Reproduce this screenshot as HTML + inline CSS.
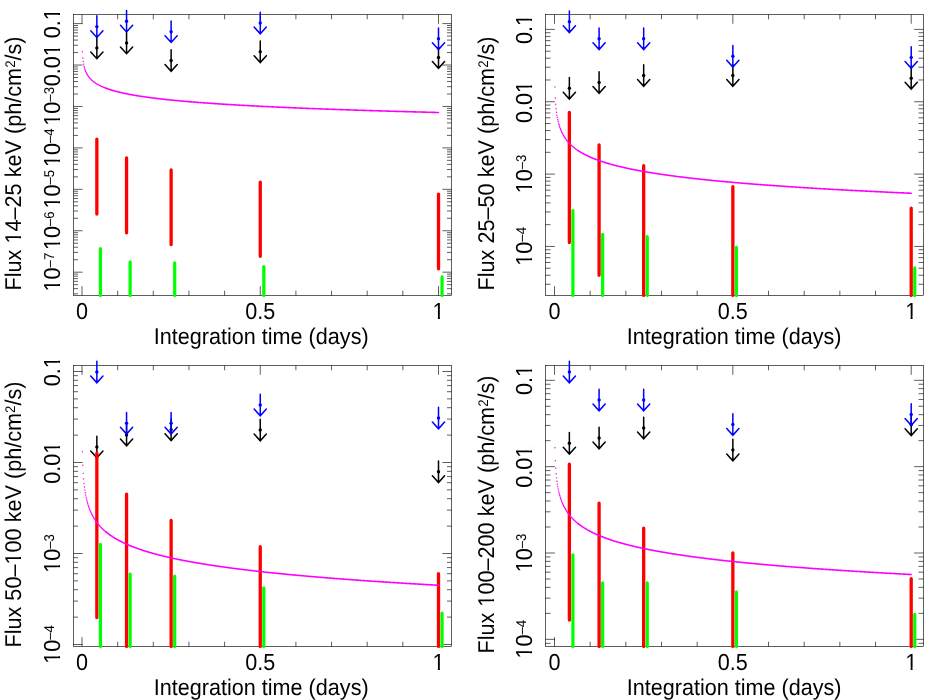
<!DOCTYPE html>
<html><head><meta charset="utf-8"><title>plot</title>
<style>html,body{margin:0;padding:0;background:#fff}svg{display:block}text{font-family:"Liberation Sans",sans-serif;fill:#000;text-rendering:geometricPrecision}</style></head>
<body>
<svg width="932" height="700" viewBox="0 0 932 700">
<rect width="932" height="700" fill="#fff"/>
<g id="p1">
<path d="M82,295.5v-9.3M82,14.5v9.3M117.65,295.5v-4.8M117.65,14.5v4.8M153.3,295.5v-4.8M153.3,14.5v4.8M188.95,295.5v-4.8M188.95,14.5v4.8M224.6,295.5v-4.8M224.6,14.5v4.8M260.25,295.5v-9.3M260.25,14.5v9.3M295.9,295.5v-4.8M295.9,14.5v4.8M331.55,295.5v-4.8M331.55,14.5v4.8M367.2,295.5v-4.8M367.2,14.5v4.8M402.85,295.5v-4.8M402.85,14.5v4.8M438.5,295.5v-9.3M438.5,14.5v9.3M73.5,23.6h9.1M451.5,23.6h-9.1M73.5,65.03h9.1M451.5,65.03h-9.1M73.5,52.56h4.5M451.5,52.56h-4.5M73.5,45.26h4.5M451.5,45.26h-4.5M73.5,40.09h4.5M451.5,40.09h-4.5M73.5,36.07h4.5M451.5,36.07h-4.5M73.5,32.79h4.5M451.5,32.79h-4.5M73.5,30.02h4.5M451.5,30.02h-4.5M73.5,27.61h4.5M451.5,27.61h-4.5M73.5,25.5h4.5M451.5,25.5h-4.5M73.5,106.46h9.1M451.5,106.46h-9.1M73.5,93.99h4.5M451.5,93.99h-4.5M73.5,86.69h4.5M451.5,86.69h-4.5M73.5,81.52h4.5M451.5,81.52h-4.5M73.5,77.5h4.5M451.5,77.5h-4.5M73.5,74.22h4.5M451.5,74.22h-4.5M73.5,71.45h4.5M451.5,71.45h-4.5M73.5,69.04h4.5M451.5,69.04h-4.5M73.5,66.93h4.5M451.5,66.93h-4.5M73.5,147.89h9.1M451.5,147.89h-9.1M73.5,135.42h4.5M451.5,135.42h-4.5M73.5,128.12h4.5M451.5,128.12h-4.5M73.5,122.95h4.5M451.5,122.95h-4.5M73.5,118.93h4.5M451.5,118.93h-4.5M73.5,115.65h4.5M451.5,115.65h-4.5M73.5,112.88h4.5M451.5,112.88h-4.5M73.5,110.47h4.5M451.5,110.47h-4.5M73.5,108.36h4.5M451.5,108.36h-4.5M73.5,189.32h9.1M451.5,189.32h-9.1M73.5,176.85h4.5M451.5,176.85h-4.5M73.5,169.55h4.5M451.5,169.55h-4.5M73.5,164.38h4.5M451.5,164.38h-4.5M73.5,160.36h4.5M451.5,160.36h-4.5M73.5,157.08h4.5M451.5,157.08h-4.5M73.5,154.31h4.5M451.5,154.31h-4.5M73.5,151.9h4.5M451.5,151.9h-4.5M73.5,149.79h4.5M451.5,149.79h-4.5M73.5,230.75h9.1M451.5,230.75h-9.1M73.5,218.28h4.5M451.5,218.28h-4.5M73.5,210.98h4.5M451.5,210.98h-4.5M73.5,205.81h4.5M451.5,205.81h-4.5M73.5,201.79h4.5M451.5,201.79h-4.5M73.5,198.51h4.5M451.5,198.51h-4.5M73.5,195.74h4.5M451.5,195.74h-4.5M73.5,193.33h4.5M451.5,193.33h-4.5M73.5,191.22h4.5M451.5,191.22h-4.5M73.5,272.18h9.1M451.5,272.18h-9.1M73.5,259.71h4.5M451.5,259.71h-4.5M73.5,252.41h4.5M451.5,252.41h-4.5M73.5,247.24h4.5M451.5,247.24h-4.5M73.5,243.22h4.5M451.5,243.22h-4.5M73.5,239.94h4.5M451.5,239.94h-4.5M73.5,237.17h4.5M451.5,237.17h-4.5M73.5,234.76h4.5M451.5,234.76h-4.5M73.5,232.65h4.5M451.5,232.65h-4.5M73.5,293.84h4.5M451.5,293.84h-4.5M73.5,288.67h4.5M451.5,288.67h-4.5M73.5,284.65h4.5M451.5,284.65h-4.5M73.5,281.37h4.5M451.5,281.37h-4.5M73.5,278.6h4.5M451.5,278.6h-4.5M73.5,276.19h4.5M451.5,276.19h-4.5M73.5,274.08h4.5M451.5,274.08h-4.5" fill="none" stroke="#000" stroke-width="0.63"/>
<rect x="73.5" y="14.5" width="378" height="281" fill="none" stroke="#000" stroke-width="0.63"/>
<g fill="#000000" stroke="none"><path d="M96.85,37.1V58.7M90.75,52L96.85,58.7L102.95,52M126.56,32.1V53.7M120.46,47L126.56,53.7L132.66,47M171.12,49.7V71.3M165.03,64.6L171.12,71.3L177.22,64.6M260.25,40.95V62.55M254.15,55.85L260.25,62.55L266.35,55.85M438.5,46.7V68.3M432.4,61.6L438.5,68.3L444.6,61.6" fill="none" stroke="#000000" stroke-width="1.5" stroke-linecap="round" stroke-linejoin="miter" stroke-miterlimit="10"/><circle cx="96.85" cy="47.9" r="1.7"/><circle cx="126.56" cy="42.9" r="1.7"/><circle cx="171.12" cy="60.5" r="1.7"/><circle cx="260.25" cy="51.75" r="1.7"/><circle cx="438.5" cy="57.5" r="1.7"/></g>
<path d="M96.85,139.2V214M126.56,157.95V232.75M171.12,169.95V244.5M260.25,182.2V256.25M438.5,194.2V268.75" fill="none" stroke="#ff0000" stroke-width="3.3" stroke-linecap="round"/>
<path d="M100.42,248.7V295.4M130.13,261.95V295.4M174.69,262.95V295.4M263.81,266.7V295.4M442.06,276.95V295.4" fill="none" stroke="#00ff00" stroke-width="3.2" stroke-linecap="round"/>
<g fill="#0000ff" stroke="none"><path d="M96.85,15.85V37.45M90.75,30.75L96.85,37.45L102.95,30.75M126.56,10.4V32M120.46,25.3L126.56,32L132.66,25.3M171.12,20.9V42.5M165.03,35.8L171.12,42.5L177.22,35.8M260.25,12.2V33.8M254.15,27.1L260.25,33.8L266.35,27.1M438.5,27.95V49.55M432.4,42.85L438.5,49.55L444.6,42.85" fill="none" stroke="#0000ff" stroke-width="1.5" stroke-linecap="round" stroke-linejoin="miter" stroke-miterlimit="10"/><circle cx="96.85" cy="26.65" r="1.7"/><circle cx="126.56" cy="21.2" r="1.7"/><circle cx="171.12" cy="31.7" r="1.7"/><circle cx="260.25" cy="23" r="1.7"/><circle cx="438.5" cy="38.75" r="1.7"/></g>
<path fill="none" stroke="#ff00ff" stroke-width="1.45" stroke-linecap="round" d="M82.41,51.67h0M82.83,57.91h0M83.24,61.55h0M83.65,64.14h0M84.06,66.15h0M84.48,67.79h0M84.89,69.18h0M85.3,70.38h0M85.71,71.44h0M86.13,72.39h0M86.54,73.24h0M86.95,74.03h0M87.36,74.75h0M87.78,75.41h0M88.19,76.03h0M88.6,76.61h0M89.01,77.16h0M89.43,77.67h0M89.84,78.16h0M90.25,78.62h0M90.66,79.06h0M91.08,79.48h0M91.49,79.88h0M91.9,80.26h0M92.32,80.63h0M92.73,80.98h0M93.14,81.32h0M93.55,81.65h0M93.97,81.96h0M94.38,82.27h0M94.79,82.56h0M95.2,82.85h0M95.62,83.13h0M96.03,83.39h0M96.44,83.66h0M96.85,83.91h0M97.27,84.16h0M97.68,84.4h0M98.09,84.63h0M98.5,84.86h0M98.92,85.08h0M99.33,85.3h0M99.74,85.51h0M100.16,85.71h0M100.57,85.92h0M100.98,86.11h0M101.39,86.31h0M101.81,86.5h0M102.22,86.68h0M102.63,86.86h0M103.04,87.04h0M103.46,87.22h0M103.87,87.39h0M104.28,87.56h0M104.69,87.72h0M105.11,87.88h0M105.52,88.04h0M105.93,88.2h0M106.34,88.35h0M106.76,88.5h0"/>
<polyline fill="none" stroke="#ff00ff" stroke-width="1.6" stroke-linecap="round" stroke-linejoin="round" points="105.93,88.2 106.34,88.35 106.76,88.5 107.17,88.65 107.58,88.8 107.99,88.94 108.41,89.09 108.82,89.22 109.23,89.36 109.65,89.5 110.06,89.63 110.47,89.76 110.88,89.89 111.3,90.02 111.71,90.14 112.12,90.27 112.53,90.39 112.95,90.51 113.36,90.63 113.77,90.75 114.18,90.86 114.6,90.98 115.01,91.09 115.42,91.2 115.83,91.31 116.25,91.42 116.66,91.53 117.07,91.64 117.48,91.74 117.9,91.85 118.31,91.95 118.72,92.05 119.14,92.15 119.55,92.25 119.96,92.35 120.37,92.45 120.79,92.54 121.2,92.64 121.61,92.73 122.02,92.83 122.44,92.92 122.85,93.01 123.26,93.1 123.67,93.19 124.09,93.28 124.5,93.37 124.91,93.45 125.32,93.54 125.74,93.62 126.15,93.71 126.56,93.79 126.98,93.88 127.39,93.96 127.8,94.04 128.21,94.12 128.63,94.2 129.04,94.28 129.45,94.36 129.86,94.44 130.28,94.51 130.69,94.59 131.1,94.67 131.51,94.74 131.93,94.82 132.34,94.89 132.75,94.96 133.16,95.04 133.58,95.11 133.99,95.18 134.4,95.25 134.81,95.32 135.23,95.39 135.64,95.46 136.05,95.53 136.47,95.6 136.88,95.67 137.29,95.73 137.7,95.8 138.12,95.87 138.53,95.93 138.94,96 139.35,96.06 139.77,96.13 140.18,96.19 140.59,96.25 141,96.32 141.42,96.38 141.83,96.44 142.24,96.5 142.65,96.57 143.07,96.63 143.48,96.69 143.89,96.75 144.3,96.81 144.72,96.87 145.13,96.93 145.54,96.98 145.96,97.04 146.37,97.1 146.78,97.16 147.19,97.22 147.61,97.27 148.02,97.33 148.43,97.38 148.84,97.44 149.26,97.5 149.67,97.55 150.08,97.61 150.49,97.66 150.91,97.71 151.32,97.77 151.73,97.82 152.14,97.87 152.56,97.93 152.97,97.98 153.38,98.03 153.8,98.08 154.21,98.13 154.62,98.19 155.03,98.24 155.45,98.29 155.86,98.34 156.27,98.39 156.68,98.44 157.1,98.49 157.51,98.54 157.92,98.59 158.33,98.63 158.75,98.68 159.16,98.73 159.57,98.78 159.98,98.83 160.4,98.87 160.81,98.92 161.22,98.97 161.63,99.02 162.05,99.06 162.46,99.11 162.87,99.15 163.29,99.2 163.7,99.25 164.11,99.29 164.52,99.34 164.94,99.38 165.35,99.43 165.76,99.47 166.17,99.51 166.59,99.56 167,99.6 167.41,99.65 167.82,99.69 168.24,99.73 168.65,99.77 169.06,99.82 169.47,99.86 169.89,99.9 170.3,99.94 170.71,99.99 171.12,100.03 171.54,100.07 171.95,100.11 172.36,100.15 172.78,100.19 173.19,100.23 173.6,100.27 174.01,100.32 174.43,100.36 174.84,100.4 175.25,100.44 175.66,100.48 176.08,100.51 176.49,100.55 176.9,100.59 177.31,100.63 177.73,100.67 178.14,100.71 178.55,100.75 178.96,100.79 179.38,100.82 179.79,100.86 180.2,100.9 180.62,100.94 181.03,100.98 181.44,101.01 181.85,101.05 182.27,101.09 182.68,101.12 183.09,101.16 183.5,101.2 183.92,101.23 184.33,101.27 184.74,101.31 185.15,101.34 185.57,101.38 185.98,101.42 186.39,101.45 186.8,101.49 187.22,101.52 187.63,101.56 188.04,101.59 188.45,101.63 188.87,101.66 189.28,101.7 189.69,101.73 190.11,101.77 190.52,101.8 190.93,101.83 191.34,101.87 191.76,101.9 192.17,101.94 192.58,101.97 192.99,102 193.41,102.04 193.82,102.07 194.23,102.1 194.64,102.14 195.06,102.17 195.47,102.2 195.88,102.23 196.29,102.27 196.71,102.3 197.12,102.33 197.53,102.36 197.95,102.4 198.36,102.43 198.77,102.46 199.18,102.49 199.6,102.52 200.01,102.55 200.42,102.59 200.83,102.62 201.25,102.65 201.66,102.68 202.07,102.71 202.48,102.74 202.9,102.77 203.31,102.8 203.72,102.83 204.13,102.86 204.55,102.89 204.96,102.92 205.37,102.95 205.78,102.98 206.2,103.01 206.61,103.04 207.02,103.07 207.44,103.1 207.85,103.13 208.26,103.16 208.67,103.19 209.09,103.22 209.5,103.25 209.91,103.28 210.32,103.31 210.74,103.34 211.15,103.37 211.56,103.39 211.97,103.42 212.39,103.45 212.8,103.48 213.21,103.51 213.62,103.54 214.04,103.56 214.45,103.59 214.86,103.62 215.27,103.65 215.69,103.68 216.1,103.7 216.51,103.73 216.93,103.76 217.34,103.79 217.75,103.81 218.16,103.84 218.58,103.87 218.99,103.9 219.4,103.92 219.81,103.95 220.23,103.98 220.64,104 221.05,104.03 221.46,104.06 221.88,104.08 222.29,104.11 222.7,104.14 223.11,104.16 223.53,104.19 223.94,104.21 224.35,104.24 224.77,104.27 225.18,104.29 225.59,104.32 226,104.34 226.42,104.37 226.83,104.4 227.24,104.42 227.65,104.45 228.07,104.47 228.48,104.5 228.89,104.52 229.3,104.55 229.72,104.57 230.13,104.6 230.54,104.62 230.95,104.65 231.37,104.67 231.78,104.7 232.19,104.72 232.6,104.75 233.02,104.77 233.43,104.8 233.84,104.82 234.26,104.85 234.67,104.87 235.08,104.89 235.49,104.92 235.91,104.94 236.32,104.97 236.73,104.99 237.14,105.02 237.56,105.04 237.97,105.06 238.38,105.09 238.79,105.11 239.21,105.13 239.62,105.16 240.03,105.18 240.44,105.2 240.86,105.23 241.27,105.25 241.68,105.27 242.09,105.3 242.51,105.32 242.92,105.34 243.33,105.37 243.75,105.39 244.16,105.41 244.57,105.44 244.98,105.46 245.4,105.48 245.81,105.5 246.22,105.53 246.63,105.55 247.05,105.57 247.46,105.59 247.87,105.62 248.28,105.64 248.7,105.66 249.11,105.68 249.52,105.71 249.93,105.73 250.35,105.75 250.76,105.77 251.17,105.79 251.59,105.82 252,105.84 252.41,105.86 252.82,105.88 253.24,105.9 253.65,105.92 254.06,105.95 254.47,105.97 254.89,105.99 255.3,106.01 255.71,106.03 256.12,106.05 256.54,106.07 256.95,106.1 257.36,106.12 257.77,106.14 258.19,106.16 258.6,106.18 259.01,106.2 259.42,106.22 259.84,106.24 260.25,106.26 260.66,106.28 261.08,106.31 261.49,106.33 261.9,106.35 262.31,106.37 262.73,106.39 263.14,106.41 263.55,106.43 263.96,106.45 264.38,106.47 264.79,106.49 265.2,106.51 265.61,106.53 266.03,106.55 266.44,106.57 266.85,106.59 267.26,106.61 267.68,106.63 268.09,106.65 268.5,106.67 268.91,106.69 269.33,106.71 269.74,106.73 270.15,106.75 270.57,106.77 270.98,106.79 271.39,106.81 271.8,106.83 272.22,106.85 272.63,106.87 273.04,106.89 273.45,106.91 273.87,106.93 274.28,106.95 274.69,106.97 275.1,106.98 275.52,107 275.93,107.02 276.34,107.04 276.75,107.06 277.17,107.08 277.58,107.1 277.99,107.12 278.41,107.14 278.82,107.16 279.23,107.17 279.64,107.19 280.06,107.21 280.47,107.23 280.88,107.25 281.29,107.27 281.71,107.29 282.12,107.31 282.53,107.32 282.94,107.34 283.36,107.36 283.77,107.38 284.18,107.4 284.59,107.42 285.01,107.43 285.42,107.45 285.83,107.47 286.24,107.49 286.66,107.51 287.07,107.53 287.48,107.54 287.9,107.56 288.31,107.58 288.72,107.6 289.13,107.62 289.55,107.63 289.96,107.65 290.37,107.67 290.78,107.69 291.2,107.7 291.61,107.72 292.02,107.74 292.43,107.76 292.85,107.78 293.26,107.79 293.67,107.81 294.08,107.83 294.5,107.85 294.91,107.86 295.32,107.88 295.73,107.9 296.15,107.91 296.56,107.93 296.97,107.95 297.39,107.97 297.8,107.98 298.21,108 298.62,108.02 299.04,108.04 299.45,108.05 299.86,108.07 300.27,108.09 300.69,108.1 301.1,108.12 301.51,108.14 301.92,108.15 302.34,108.17 302.75,108.19 303.16,108.2 303.57,108.22 303.99,108.24 304.4,108.25 304.81,108.27 305.23,108.29 305.64,108.3 306.05,108.32 306.46,108.34 306.88,108.35 307.29,108.37 307.7,108.39 308.11,108.4 308.53,108.42 308.94,108.44 309.35,108.45 309.76,108.47 310.18,108.49 310.59,108.5 311,108.52 311.41,108.53 311.83,108.55 312.24,108.57 312.65,108.58 313.06,108.6 313.48,108.61 313.89,108.63 314.3,108.65 314.72,108.66 315.13,108.68 315.54,108.69 315.95,108.71 316.37,108.73 316.78,108.74 317.19,108.76 317.6,108.77 318.02,108.79 318.43,108.81 318.84,108.82 319.25,108.84 319.67,108.85 320.08,108.87 320.49,108.88 320.9,108.9 321.32,108.91 321.73,108.93 322.14,108.95 322.55,108.96 322.97,108.98 323.38,108.99 323.79,109.01 324.21,109.02 324.62,109.04 325.03,109.05 325.44,109.07 325.86,109.08 326.27,109.1 326.68,109.11 327.09,109.13 327.51,109.14 327.92,109.16 328.33,109.17 328.74,109.19 329.16,109.2 329.57,109.22 329.98,109.23 330.39,109.25 330.81,109.26 331.22,109.28 331.63,109.29 332.05,109.31 332.46,109.32 332.87,109.34 333.28,109.35 333.7,109.37 334.11,109.38 334.52,109.4 334.93,109.41 335.35,109.43 335.76,109.44 336.17,109.46 336.58,109.47 337,109.49 337.41,109.5 337.82,109.51 338.23,109.53 338.65,109.54 339.06,109.56 339.47,109.57 339.88,109.59 340.3,109.6 340.71,109.62 341.12,109.63 341.54,109.64 341.95,109.66 342.36,109.67 342.77,109.69 343.19,109.7 343.6,109.72 344.01,109.73 344.42,109.74 344.84,109.76 345.25,109.77 345.66,109.79 346.07,109.8 346.49,109.81 346.9,109.83 347.31,109.84 347.72,109.86 348.14,109.87 348.55,109.88 348.96,109.9 349.38,109.91 349.79,109.93 350.2,109.94 350.61,109.95 351.03,109.97 351.44,109.98 351.85,109.99 352.26,110.01 352.68,110.02 353.09,110.04 353.5,110.05 353.91,110.06 354.33,110.08 354.74,110.09 355.15,110.1 355.56,110.12 355.98,110.13 356.39,110.14 356.8,110.16 357.21,110.17 357.63,110.19 358.04,110.2 358.45,110.21 358.87,110.23 359.28,110.24 359.69,110.25 360.1,110.27 360.52,110.28 360.93,110.29 361.34,110.31 361.75,110.32 362.17,110.33 362.58,110.35 362.99,110.36 363.4,110.37 363.82,110.39 364.23,110.4 364.64,110.41 365.05,110.42 365.47,110.44 365.88,110.45 366.29,110.46 366.7,110.48 367.12,110.49 367.53,110.5 367.94,110.52 368.36,110.53 368.77,110.54 369.18,110.55 369.59,110.57 370.01,110.58 370.42,110.59 370.83,110.61 371.24,110.62 371.66,110.63 372.07,110.64 372.48,110.66 372.89,110.67 373.31,110.68 373.72,110.7 374.13,110.71 374.54,110.72 374.96,110.73 375.37,110.75 375.78,110.76 376.2,110.77 376.61,110.78 377.02,110.8 377.43,110.81 377.85,110.82 378.26,110.83 378.67,110.85 379.08,110.86 379.5,110.87 379.91,110.88 380.32,110.9 380.73,110.91 381.15,110.92 381.56,110.93 381.97,110.95 382.38,110.96 382.8,110.97 383.21,110.98 383.62,111 384.03,111.01 384.45,111.02 384.86,111.03 385.27,111.05 385.69,111.06 386.1,111.07 386.51,111.08 386.92,111.09 387.34,111.11 387.75,111.12 388.16,111.13 388.57,111.14 388.99,111.15 389.4,111.17 389.81,111.18 390.22,111.19 390.64,111.2 391.05,111.22 391.46,111.23 391.87,111.24 392.29,111.25 392.7,111.26 393.11,111.27 393.52,111.29 393.94,111.3 394.35,111.31 394.76,111.32 395.18,111.33 395.59,111.35 396,111.36 396.41,111.37 396.83,111.38 397.24,111.39 397.65,111.41 398.06,111.42 398.48,111.43 398.89,111.44 399.3,111.45 399.71,111.46 400.13,111.48 400.54,111.49 400.95,111.5 401.36,111.51 401.78,111.52 402.19,111.53 402.6,111.55 403.02,111.56 403.43,111.57 403.84,111.58 404.25,111.59 404.67,111.6 405.08,111.61 405.49,111.63 405.9,111.64 406.32,111.65 406.73,111.66 407.14,111.67 407.55,111.68 407.97,111.69 408.38,111.71 408.79,111.72 409.2,111.73 409.62,111.74 410.03,111.75 410.44,111.76 410.85,111.77 411.27,111.79 411.68,111.8 412.09,111.81 412.51,111.82 412.92,111.83 413.33,111.84 413.74,111.85 414.16,111.86 414.57,111.87 414.98,111.89 415.39,111.9 415.81,111.91 416.22,111.92 416.63,111.93 417.04,111.94 417.46,111.95 417.87,111.96 418.28,111.97 418.69,111.99 419.11,112 419.52,112.01 419.93,112.02 420.34,112.03 420.76,112.04 421.17,112.05 421.58,112.06 422,112.07 422.41,112.08 422.82,112.1 423.23,112.11 423.65,112.12 424.06,112.13 424.47,112.14 424.88,112.15 425.3,112.16 425.71,112.17 426.12,112.18 426.53,112.19 426.95,112.2 427.36,112.21 427.77,112.23 428.18,112.24 428.6,112.25 429.01,112.26 429.42,112.27 429.84,112.28 430.25,112.29 430.66,112.3 431.07,112.31 431.49,112.32 431.9,112.33 432.31,112.34 432.72,112.35 433.14,112.36 433.55,112.37 433.96,112.38 434.37,112.4 434.79,112.41 435.2,112.42 435.61,112.43 436.02,112.44 436.44,112.45 436.85,112.46 437.26,112.47 437.67,112.48 438.09,112.49 438.5,112.5"/>

</g>
<g id="p2">
<path d="M554.5,295.5v-9.3M554.5,14.5v9.3M590.17,295.5v-4.8M590.17,14.5v4.8M625.84,295.5v-4.8M625.84,14.5v4.8M661.51,295.5v-4.8M661.51,14.5v4.8M697.18,295.5v-4.8M697.18,14.5v4.8M732.85,295.5v-9.3M732.85,14.5v9.3M768.52,295.5v-4.8M768.52,14.5v4.8M804.19,295.5v-4.8M804.19,14.5v4.8M839.86,295.5v-4.8M839.86,14.5v4.8M875.53,295.5v-4.8M875.53,14.5v4.8M911.2,295.5v-9.3M911.2,14.5v9.3M545.5,29.4h9.4M923.5,29.4h-9.4M545.5,101.75h9.4M923.5,101.75h-9.4M545.5,79.97h5M923.5,79.97h-5M545.5,67.23h5M923.5,67.23h-5M545.5,58.19h5M923.5,58.19h-5M545.5,51.18h5M923.5,51.18h-5M545.5,45.45h5M923.5,45.45h-5M545.5,40.61h5M923.5,40.61h-5M545.5,36.41h5M923.5,36.41h-5M545.5,32.71h5M923.5,32.71h-5M545.5,174.1h9.4M923.5,174.1h-9.4M545.5,152.32h5M923.5,152.32h-5M545.5,139.58h5M923.5,139.58h-5M545.5,130.54h5M923.5,130.54h-5M545.5,123.53h5M923.5,123.53h-5M545.5,117.8h5M923.5,117.8h-5M545.5,112.96h5M923.5,112.96h-5M545.5,108.76h5M923.5,108.76h-5M545.5,105.06h5M923.5,105.06h-5M545.5,246.45h9.4M923.5,246.45h-9.4M545.5,224.67h5M923.5,224.67h-5M545.5,211.93h5M923.5,211.93h-5M545.5,202.89h5M923.5,202.89h-5M545.5,195.88h5M923.5,195.88h-5M545.5,190.15h5M923.5,190.15h-5M545.5,185.31h5M923.5,185.31h-5M545.5,181.11h5M923.5,181.11h-5M545.5,177.41h5M923.5,177.41h-5M545.5,284.28h5M923.5,284.28h-5M545.5,275.24h5M923.5,275.24h-5M545.5,268.23h5M923.5,268.23h-5M545.5,262.5h5M923.5,262.5h-5M545.5,257.66h5M923.5,257.66h-5M545.5,253.46h5M923.5,253.46h-5M545.5,249.76h5M923.5,249.76h-5" fill="none" stroke="#000" stroke-width="0.63"/>
<rect x="545.5" y="14.5" width="378" height="281" fill="none" stroke="#000" stroke-width="0.63"/>
<g fill="#000000" stroke="none"><path d="M569.36,77.45V99.05M563.26,92.35L569.36,99.05L575.46,92.35M599.09,71.7V93.3M592.99,86.6L599.09,93.3L605.19,86.6M643.67,64.7V86.3M637.57,79.6L643.67,86.3L649.77,79.6M732.85,64.7V86.3M726.75,79.6L732.85,86.3L738.95,79.6M911.2,67.45V89.05M905.1,82.35L911.2,89.05L917.3,82.35" fill="none" stroke="#000000" stroke-width="1.5" stroke-linecap="round" stroke-linejoin="miter" stroke-miterlimit="10"/><circle cx="569.36" cy="88.25" r="1.7"/><circle cx="599.09" cy="82.5" r="1.7"/><circle cx="643.67" cy="75.5" r="1.7"/><circle cx="732.85" cy="75.5" r="1.7"/><circle cx="911.2" cy="78.25" r="1.7"/></g>
<path d="M569.36,112.45V242.5M599.09,144.95V275.25M643.67,165.7V295.4M732.85,186.7V295.4M911.2,208.2V295.4" fill="none" stroke="#ff0000" stroke-width="3.3" stroke-linecap="round"/>
<path d="M572.93,210.7V295.4M602.65,234.45V295.4M647.24,236.7V295.4M736.42,247.45V295.4M914.77,267.95V295.4" fill="none" stroke="#00ff00" stroke-width="3.2" stroke-linecap="round"/>
<g fill="#0000ff" stroke="none"><path d="M569.36,10.95V32.55M563.26,25.85L569.36,32.55L575.46,25.85M599.09,27.95V49.55M592.99,42.85L599.09,49.55L605.19,42.85M643.67,27.95V49.55M637.57,42.85L643.67,49.55L649.77,42.85M732.85,45.45V67.05M726.75,60.35L732.85,67.05L738.95,60.35M911.2,46.7V68.3M905.1,61.6L911.2,68.3L917.3,61.6" fill="none" stroke="#0000ff" stroke-width="1.5" stroke-linecap="round" stroke-linejoin="miter" stroke-miterlimit="10"/><circle cx="569.36" cy="21.75" r="1.7"/><circle cx="599.09" cy="38.75" r="1.7"/><circle cx="643.67" cy="38.75" r="1.7"/><circle cx="732.85" cy="56.25" r="1.7"/><circle cx="911.2" cy="57.5" r="1.7"/></g>
<path fill="none" stroke="#ff00ff" stroke-width="1.45" stroke-linecap="round" d="M554.91,87.02h0M555.33,97.91h0M555.74,104.28h0M556.15,108.8h0M556.56,112.31h0M556.98,115.17h0M557.39,117.59h0M557.8,119.69h0M558.22,121.54h0M558.63,123.2h0M559.04,124.69h0M559.45,126.06h0M559.87,127.32h0M560.28,128.48h0M560.69,129.57h0M561.11,130.58h0M561.52,131.53h0M561.93,132.43h0M562.34,133.28h0M562.76,134.09h0M563.17,134.85h0M563.58,135.58h0M564,136.28h0M564.41,136.95h0M564.82,137.59h0M565.23,138.21h0M565.65,138.8h0M566.06,139.37h0M566.47,139.92h0M566.89,140.46h0M567.3,140.97h0M567.71,141.47h0M568.12,141.95h0M568.54,142.42h0M568.95,142.88h0M569.36,143.32h0M569.78,143.75h0M570.19,144.17h0M570.6,144.58h0M571.01,144.98h0M571.43,145.36h0M571.84,145.74h0M572.25,146.11h0M572.67,146.47h0M573.08,146.83h0M573.49,147.17h0M573.9,147.51h0M574.32,147.84h0M574.73,148.16h0M575.14,148.48h0M575.56,148.79h0M575.97,149.1h0M576.38,149.4h0M576.79,149.69h0M577.21,149.98h0M577.62,150.26h0M578.03,150.54h0M578.45,150.81h0M578.86,151.08h0M579.27,151.35h0"/>
<polyline fill="none" stroke="#ff00ff" stroke-width="1.6" stroke-linecap="round" stroke-linejoin="round" points="578.45,150.81 578.86,151.08 579.27,151.35 579.68,151.61 580.1,151.86 580.51,152.11 580.92,152.36 581.34,152.6 581.75,152.84 582.16,153.08 582.57,153.31 582.99,153.54 583.4,153.77 583.81,153.99 584.23,154.21 584.64,154.43 585.05,154.64 585.46,154.85 585.88,155.06 586.29,155.27 586.7,155.47 587.11,155.67 587.53,155.87 587.94,156.06 588.35,156.25 588.77,156.44 589.18,156.63 589.59,156.82 590,157 590.42,157.18 590.83,157.36 591.24,157.54 591.66,157.72 592.07,157.89 592.48,158.06 592.89,158.23 593.31,158.4 593.72,158.57 594.13,158.73 594.55,158.89 594.96,159.05 595.37,159.21 595.78,159.37 596.2,159.53 596.61,159.68 597.02,159.84 597.44,159.99 597.85,160.14 598.26,160.29 598.67,160.43 599.09,160.58 599.5,160.73 599.91,160.87 600.33,161.01 600.74,161.15 601.15,161.29 601.56,161.43 601.98,161.57 602.39,161.7 602.8,161.84 603.22,161.97 603.63,162.1 604.04,162.24 604.45,162.37 604.87,162.5 605.28,162.62 605.69,162.75 606.11,162.88 606.52,163 606.93,163.13 607.34,163.25 607.76,163.37 608.17,163.49 608.58,163.61 609,163.73 609.41,163.85 609.82,163.97 610.23,164.09 610.65,164.2 611.06,164.32 611.47,164.43 611.89,164.55 612.3,164.66 612.71,164.77 613.12,164.88 613.54,164.99 613.95,165.1 614.36,165.21 614.78,165.32 615.19,165.42 615.6,165.53 616.01,165.64 616.43,165.74 616.84,165.85 617.25,165.95 617.67,166.05 618.08,166.16 618.49,166.26 618.9,166.36 619.32,166.46 619.73,166.56 620.14,166.66 620.56,166.76 620.97,166.85 621.38,166.95 621.79,167.05 622.21,167.14 622.62,167.24 623.03,167.33 623.45,167.43 623.86,167.52 624.27,167.62 624.68,167.71 625.1,167.8 625.51,167.89 625.92,167.98 626.34,168.07 626.75,168.16 627.16,168.25 627.57,168.34 627.99,168.43 628.4,168.52 628.81,168.61 629.23,168.69 629.64,168.78 630.05,168.87 630.46,168.95 630.88,169.04 631.29,169.12 631.7,169.21 632.12,169.29 632.53,169.37 632.94,169.46 633.35,169.54 633.77,169.62 634.18,169.7 634.59,169.78 635.01,169.86 635.42,169.94 635.83,170.02 636.24,170.1 636.66,170.18 637.07,170.26 637.48,170.34 637.9,170.42 638.31,170.5 638.72,170.57 639.13,170.65 639.55,170.73 639.96,170.8 640.37,170.88 640.79,170.95 641.2,171.03 641.61,171.1 642.02,171.18 642.44,171.25 642.85,171.32 643.26,171.4 643.67,171.47 644.09,171.54 644.5,171.62 644.91,171.69 645.33,171.76 645.74,171.83 646.15,171.9 646.56,171.97 646.98,172.04 647.39,172.11 647.8,172.18 648.22,172.25 648.63,172.32 649.04,172.39 649.45,172.46 649.87,172.53 650.28,172.59 650.69,172.66 651.11,172.73 651.52,172.79 651.93,172.86 652.34,172.93 652.76,172.99 653.17,173.06 653.58,173.13 654,173.19 654.41,173.26 654.82,173.32 655.23,173.39 655.65,173.45 656.06,173.51 656.47,173.58 656.89,173.64 657.3,173.7 657.71,173.77 658.12,173.83 658.54,173.89 658.95,173.95 659.36,174.02 659.78,174.08 660.19,174.14 660.6,174.2 661.01,174.26 661.43,174.32 661.84,174.38 662.25,174.44 662.67,174.5 663.08,174.56 663.49,174.62 663.9,174.68 664.32,174.74 664.73,174.8 665.14,174.86 665.56,174.92 665.97,174.98 666.38,175.03 666.79,175.09 667.21,175.15 667.62,175.21 668.03,175.26 668.45,175.32 668.86,175.38 669.27,175.43 669.68,175.49 670.1,175.55 670.51,175.6 670.92,175.66 671.34,175.71 671.75,175.77 672.16,175.83 672.57,175.88 672.99,175.94 673.4,175.99 673.81,176.04 674.23,176.1 674.64,176.15 675.05,176.21 675.46,176.26 675.88,176.31 676.29,176.37 676.7,176.42 677.12,176.47 677.53,176.53 677.94,176.58 678.35,176.63 678.77,176.68 679.18,176.74 679.59,176.79 680.01,176.84 680.42,176.89 680.83,176.94 681.24,176.99 681.66,177.04 682.07,177.1 682.48,177.15 682.9,177.2 683.31,177.25 683.72,177.3 684.13,177.35 684.55,177.4 684.96,177.45 685.37,177.5 685.79,177.55 686.2,177.6 686.61,177.65 687.02,177.69 687.44,177.74 687.85,177.79 688.26,177.84 688.68,177.89 689.09,177.94 689.5,177.99 689.91,178.03 690.33,178.08 690.74,178.13 691.15,178.18 691.57,178.22 691.98,178.27 692.39,178.32 692.8,178.37 693.22,178.41 693.63,178.46 694.04,178.51 694.46,178.55 694.87,178.6 695.28,178.64 695.69,178.69 696.11,178.74 696.52,178.78 696.93,178.83 697.35,178.87 697.76,178.92 698.17,178.96 698.58,179.01 699,179.05 699.41,179.1 699.82,179.14 700.24,179.19 700.65,179.23 701.06,179.28 701.47,179.32 701.89,179.36 702.3,179.41 702.71,179.45 703.12,179.5 703.54,179.54 703.95,179.58 704.36,179.63 704.78,179.67 705.19,179.71 705.6,179.76 706.01,179.8 706.43,179.84 706.84,179.88 707.25,179.93 707.67,179.97 708.08,180.01 708.49,180.05 708.9,180.1 709.32,180.14 709.73,180.18 710.14,180.22 710.56,180.26 710.97,180.3 711.38,180.35 711.79,180.39 712.21,180.43 712.62,180.47 713.03,180.51 713.45,180.55 713.86,180.59 714.27,180.63 714.68,180.67 715.1,180.71 715.51,180.75 715.92,180.79 716.34,180.83 716.75,180.87 717.16,180.91 717.57,180.95 717.99,180.99 718.4,181.03 718.81,181.07 719.23,181.11 719.64,181.15 720.05,181.19 720.46,181.23 720.88,181.27 721.29,181.31 721.7,181.35 722.12,181.39 722.53,181.42 722.94,181.46 723.35,181.5 723.77,181.54 724.18,181.58 724.59,181.62 725.01,181.65 725.42,181.69 725.83,181.73 726.24,181.77 726.66,181.81 727.07,181.84 727.48,181.88 727.9,181.92 728.31,181.96 728.72,181.99 729.13,182.03 729.55,182.07 729.96,182.1 730.37,182.14 730.79,182.18 731.2,182.21 731.61,182.25 732.02,182.29 732.44,182.32 732.85,182.36 733.26,182.4 733.68,182.43 734.09,182.47 734.5,182.51 734.91,182.54 735.33,182.58 735.74,182.61 736.15,182.65 736.57,182.68 736.98,182.72 737.39,182.76 737.8,182.79 738.22,182.83 738.63,182.86 739.04,182.9 739.46,182.93 739.87,182.97 740.28,183 740.69,183.04 741.11,183.07 741.52,183.11 741.93,183.14 742.35,183.18 742.76,183.21 743.17,183.24 743.58,183.28 744,183.31 744.41,183.35 744.82,183.38 745.24,183.42 745.65,183.45 746.06,183.48 746.47,183.52 746.89,183.55 747.3,183.58 747.71,183.62 748.13,183.65 748.54,183.68 748.95,183.72 749.36,183.75 749.78,183.78 750.19,183.82 750.6,183.85 751.02,183.88 751.43,183.92 751.84,183.95 752.25,183.98 752.67,184.02 753.08,184.05 753.49,184.08 753.91,184.11 754.32,184.15 754.73,184.18 755.14,184.21 755.56,184.24 755.97,184.28 756.38,184.31 756.8,184.34 757.21,184.37 757.62,184.4 758.03,184.44 758.45,184.47 758.86,184.5 759.27,184.53 759.69,184.56 760.1,184.59 760.51,184.63 760.92,184.66 761.34,184.69 761.75,184.72 762.16,184.75 762.58,184.78 762.99,184.81 763.4,184.84 763.81,184.88 764.23,184.91 764.64,184.94 765.05,184.97 765.46,185 765.88,185.03 766.29,185.06 766.7,185.09 767.12,185.12 767.53,185.15 767.94,185.18 768.35,185.21 768.77,185.24 769.18,185.27 769.59,185.3 770.01,185.33 770.42,185.36 770.83,185.39 771.24,185.42 771.66,185.45 772.07,185.48 772.48,185.51 772.9,185.54 773.31,185.57 773.72,185.6 774.13,185.63 774.55,185.66 774.96,185.69 775.37,185.72 775.79,185.75 776.2,185.78 776.61,185.81 777.02,185.84 777.44,185.87 777.85,185.9 778.26,185.92 778.68,185.95 779.09,185.98 779.5,186.01 779.91,186.04 780.33,186.07 780.74,186.1 781.15,186.13 781.57,186.15 781.98,186.18 782.39,186.21 782.8,186.24 783.22,186.27 783.63,186.3 784.04,186.32 784.46,186.35 784.87,186.38 785.28,186.41 785.69,186.44 786.11,186.47 786.52,186.49 786.93,186.52 787.35,186.55 787.76,186.58 788.17,186.6 788.58,186.63 789,186.66 789.41,186.69 789.82,186.72 790.24,186.74 790.65,186.77 791.06,186.8 791.47,186.83 791.89,186.85 792.3,186.88 792.71,186.91 793.13,186.93 793.54,186.96 793.95,186.99 794.36,187.02 794.78,187.04 795.19,187.07 795.6,187.1 796.02,187.12 796.43,187.15 796.84,187.18 797.25,187.2 797.67,187.23 798.08,187.26 798.49,187.28 798.91,187.31 799.32,187.34 799.73,187.36 800.14,187.39 800.56,187.42 800.97,187.44 801.38,187.47 801.8,187.5 802.21,187.52 802.62,187.55 803.03,187.57 803.45,187.6 803.86,187.63 804.27,187.65 804.69,187.68 805.1,187.7 805.51,187.73 805.92,187.76 806.34,187.78 806.75,187.81 807.16,187.83 807.58,187.86 807.99,187.88 808.4,187.91 808.81,187.93 809.23,187.96 809.64,187.99 810.05,188.01 810.47,188.04 810.88,188.06 811.29,188.09 811.7,188.11 812.12,188.14 812.53,188.16 812.94,188.19 813.36,188.21 813.77,188.24 814.18,188.26 814.59,188.29 815.01,188.31 815.42,188.34 815.83,188.36 816.25,188.39 816.66,188.41 817.07,188.44 817.48,188.46 817.9,188.49 818.31,188.51 818.72,188.54 819.14,188.56 819.55,188.58 819.96,188.61 820.37,188.63 820.79,188.66 821.2,188.68 821.61,188.71 822.03,188.73 822.44,188.75 822.85,188.78 823.26,188.8 823.68,188.83 824.09,188.85 824.5,188.88 824.91,188.9 825.33,188.92 825.74,188.95 826.15,188.97 826.57,188.99 826.98,189.02 827.39,189.04 827.8,189.07 828.22,189.09 828.63,189.11 829.04,189.14 829.46,189.16 829.87,189.18 830.28,189.21 830.69,189.23 831.11,189.25 831.52,189.28 831.93,189.3 832.35,189.33 832.76,189.35 833.17,189.37 833.58,189.39 834,189.42 834.41,189.44 834.82,189.46 835.24,189.49 835.65,189.51 836.06,189.53 836.47,189.56 836.89,189.58 837.3,189.6 837.71,189.63 838.13,189.65 838.54,189.67 838.95,189.69 839.36,189.72 839.78,189.74 840.19,189.76 840.6,189.79 841.02,189.81 841.43,189.83 841.84,189.85 842.25,189.88 842.67,189.9 843.08,189.92 843.49,189.94 843.91,189.97 844.32,189.99 844.73,190.01 845.14,190.03 845.56,190.05 845.97,190.08 846.38,190.1 846.8,190.12 847.21,190.14 847.62,190.17 848.03,190.19 848.45,190.21 848.86,190.23 849.27,190.25 849.69,190.28 850.1,190.3 850.51,190.32 850.92,190.34 851.34,190.36 851.75,190.39 852.16,190.41 852.58,190.43 852.99,190.45 853.4,190.47 853.81,190.49 854.23,190.52 854.64,190.54 855.05,190.56 855.47,190.58 855.88,190.6 856.29,190.62 856.7,190.65 857.12,190.67 857.53,190.69 857.94,190.71 858.36,190.73 858.77,190.75 859.18,190.77 859.59,190.79 860.01,190.82 860.42,190.84 860.83,190.86 861.25,190.88 861.66,190.9 862.07,190.92 862.48,190.94 862.9,190.96 863.31,190.99 863.72,191.01 864.14,191.03 864.55,191.05 864.96,191.07 865.37,191.09 865.79,191.11 866.2,191.13 866.61,191.15 867.03,191.17 867.44,191.19 867.85,191.21 868.26,191.24 868.68,191.26 869.09,191.28 869.5,191.3 869.92,191.32 870.33,191.34 870.74,191.36 871.15,191.38 871.57,191.4 871.98,191.42 872.39,191.44 872.81,191.46 873.22,191.48 873.63,191.5 874.04,191.52 874.46,191.54 874.87,191.56 875.28,191.58 875.7,191.6 876.11,191.62 876.52,191.64 876.93,191.66 877.35,191.68 877.76,191.7 878.17,191.72 878.59,191.74 879,191.76 879.41,191.78 879.82,191.8 880.24,191.82 880.65,191.84 881.06,191.86 881.48,191.88 881.89,191.9 882.3,191.92 882.71,191.94 883.13,191.96 883.54,191.98 883.95,192 884.36,192.02 884.78,192.04 885.19,192.06 885.6,192.08 886.02,192.1 886.43,192.12 886.84,192.14 887.25,192.16 887.67,192.18 888.08,192.2 888.49,192.22 888.91,192.24 889.32,192.26 889.73,192.27 890.14,192.29 890.56,192.31 890.97,192.33 891.38,192.35 891.8,192.37 892.21,192.39 892.62,192.41 893.03,192.43 893.45,192.45 893.86,192.47 894.27,192.49 894.69,192.51 895.1,192.52 895.51,192.54 895.92,192.56 896.34,192.58 896.75,192.6 897.16,192.62 897.58,192.64 897.99,192.66 898.4,192.68 898.81,192.69 899.23,192.71 899.64,192.73 900.05,192.75 900.47,192.77 900.88,192.79 901.29,192.81 901.7,192.83 902.12,192.84 902.53,192.86 902.94,192.88 903.36,192.9 903.77,192.92 904.18,192.94 904.59,192.96 905.01,192.97 905.42,192.99 905.83,193.01 906.25,193.03 906.66,193.05 907.07,193.07 907.48,193.09 907.9,193.1 908.31,193.12 908.72,193.14 909.14,193.16 909.55,193.18 909.96,193.2 910.37,193.21 910.79,193.23 911.2,193.25"/>

</g>
<g id="p3">
<path d="M82,646.5v-9.3M82,365.5v9.3M117.65,646.5v-4.8M117.65,365.5v4.8M153.3,646.5v-4.8M153.3,365.5v4.8M188.95,646.5v-4.8M188.95,365.5v4.8M224.6,646.5v-4.8M224.6,365.5v4.8M260.25,646.5v-9.3M260.25,365.5v9.3M295.9,646.5v-4.8M295.9,365.5v4.8M331.55,646.5v-4.8M331.55,365.5v4.8M367.2,646.5v-4.8M367.2,365.5v4.8M402.85,646.5v-4.8M402.85,365.5v4.8M438.5,646.5v-9.3M438.5,365.5v9.3M73.5,371.5h9.1M451.5,371.5h-9.1M73.5,462.5h9.1M451.5,462.5h-9.1M73.5,435.11h4.5M451.5,435.11h-4.5M73.5,419.08h4.5M451.5,419.08h-4.5M73.5,407.71h4.5M451.5,407.71h-4.5M73.5,398.89h4.5M451.5,398.89h-4.5M73.5,391.69h4.5M451.5,391.69h-4.5M73.5,385.6h4.5M451.5,385.6h-4.5M73.5,380.32h4.5M451.5,380.32h-4.5M73.5,375.66h4.5M451.5,375.66h-4.5M73.5,553.5h9.1M451.5,553.5h-9.1M73.5,526.11h4.5M451.5,526.11h-4.5M73.5,510.08h4.5M451.5,510.08h-4.5M73.5,498.71h4.5M451.5,498.71h-4.5M73.5,489.89h4.5M451.5,489.89h-4.5M73.5,482.69h4.5M451.5,482.69h-4.5M73.5,476.6h4.5M451.5,476.6h-4.5M73.5,471.32h4.5M451.5,471.32h-4.5M73.5,466.66h4.5M451.5,466.66h-4.5M73.5,644.5h9.1M451.5,644.5h-9.1M73.5,617.11h4.5M451.5,617.11h-4.5M73.5,601.08h4.5M451.5,601.08h-4.5M73.5,589.71h4.5M451.5,589.71h-4.5M73.5,580.89h4.5M451.5,580.89h-4.5M73.5,573.69h4.5M451.5,573.69h-4.5M73.5,567.6h4.5M451.5,567.6h-4.5M73.5,562.32h4.5M451.5,562.32h-4.5M73.5,557.66h4.5M451.5,557.66h-4.5" fill="none" stroke="#000" stroke-width="0.63"/>
<rect x="73.5" y="365.5" width="378" height="281" fill="none" stroke="#000" stroke-width="0.63"/>
<g fill="#000000" stroke="none"><path d="M96.85,436.2V457.8M90.75,451.1L96.85,457.8L102.95,451.1M126.56,424.2V445.8M120.46,439.1L126.56,445.8L132.66,439.1M171.12,418.95V440.55M165.03,433.85L171.12,440.55L177.22,433.85M260.25,419.2V440.8M254.15,434.1L260.25,440.8L266.35,434.1M438.5,460.95V482.55M432.4,475.85L438.5,482.55L444.6,475.85" fill="none" stroke="#000000" stroke-width="1.5" stroke-linecap="round" stroke-linejoin="miter" stroke-miterlimit="10"/><circle cx="96.85" cy="447" r="1.7"/><circle cx="126.56" cy="435" r="1.7"/><circle cx="171.12" cy="429.75" r="1.7"/><circle cx="260.25" cy="430" r="1.7"/><circle cx="438.5" cy="471.75" r="1.7"/></g>
<path d="M96.85,453.2V617.5M126.56,494.2V646.4M171.12,520.45V646.4M260.25,546.7V646.4M438.5,573.7V646.4" fill="none" stroke="#ff0000" stroke-width="3.3" stroke-linecap="round"/>
<path d="M100.42,544.45V646.4M130.13,574.2V646.4M174.69,576.2V646.4M263.81,587.95V646.4M442.06,613.2V646.4" fill="none" stroke="#00ff00" stroke-width="3.2" stroke-linecap="round"/>
<g fill="#0000ff" stroke="none"><path d="M96.85,361.2V382.8M90.75,376.1L96.85,382.8L102.95,376.1M126.56,412.45V434.05M120.46,427.35L126.56,434.05L132.66,427.35M171.12,412.45V434.05M165.03,427.35L171.12,434.05L177.22,427.35M260.25,394.2V415.8M254.15,409.1L260.25,415.8L266.35,409.1M438.5,407.2V428.8M432.4,422.1L438.5,428.8L444.6,422.1" fill="none" stroke="#0000ff" stroke-width="1.5" stroke-linecap="round" stroke-linejoin="miter" stroke-miterlimit="10"/><circle cx="96.85" cy="372" r="1.7"/><circle cx="126.56" cy="423.25" r="1.7"/><circle cx="171.12" cy="423.25" r="1.7"/><circle cx="260.25" cy="405" r="1.7"/><circle cx="438.5" cy="418" r="1.7"/></g>
<path fill="none" stroke="#ff00ff" stroke-width="1.45" stroke-linecap="round" d="M82.41,451.64h0M82.83,465.34h0M83.24,473.35h0M83.65,479.03h0M84.06,483.44h0M84.48,487.04h0M84.89,490.09h0M85.3,492.73h0M85.71,495.06h0M86.13,497.14h0M86.54,499.02h0M86.95,500.74h0M87.36,502.32h0M87.78,503.79h0M88.19,505.15h0M88.6,506.43h0M89.01,507.62h0M89.43,508.75h0M89.84,509.82h0M90.25,510.84h0M90.66,511.8h0M91.08,512.72h0M91.49,513.6h0M91.9,514.44h0M92.32,515.24h0M92.73,516.02h0M93.14,516.77h0M93.55,517.48h0M93.97,518.18h0M94.38,518.85h0M94.79,519.5h0M95.2,520.12h0M95.62,520.73h0M96.03,521.32h0M96.44,521.89h0M96.85,522.45h0M97.27,522.99h0M97.68,523.52h0M98.09,524.03h0M98.5,524.53h0M98.92,525.02h0M99.33,525.5h0M99.74,525.96h0M100.16,526.42h0M100.57,526.86h0M100.98,527.29h0M101.39,527.72h0M101.81,528.14h0M102.22,528.54h0M102.63,528.94h0M103.04,529.33h0M103.46,529.72h0M103.87,530.09h0M104.28,530.46h0M104.69,530.83h0M105.11,531.18h0M105.52,531.53h0M105.93,531.87h0M106.34,532.21h0M106.76,532.54h0"/>
<polyline fill="none" stroke="#ff00ff" stroke-width="1.6" stroke-linecap="round" stroke-linejoin="round" points="105.93,531.87 106.34,532.21 106.76,532.54 107.17,532.87 107.58,533.19 107.99,533.51 108.41,533.82 108.82,534.13 109.23,534.43 109.65,534.73 110.06,535.02 110.47,535.31 110.88,535.59 111.3,535.87 111.71,536.15 112.12,536.42 112.53,536.69 112.95,536.95 113.36,537.22 113.77,537.47 114.18,537.73 114.6,537.98 115.01,538.23 115.42,538.47 115.83,538.72 116.25,538.96 116.66,539.19 117.07,539.43 117.48,539.66 117.9,539.89 118.31,540.11 118.72,540.34 119.14,540.56 119.55,540.78 119.96,540.99 120.37,541.2 120.79,541.42 121.2,541.63 121.61,541.83 122.02,542.04 122.44,542.24 122.85,542.44 123.26,542.64 123.67,542.84 124.09,543.03 124.5,543.22 124.91,543.41 125.32,543.6 125.74,543.79 126.15,543.98 126.56,544.16 126.98,544.34 127.39,544.52 127.8,544.7 128.21,544.88 128.63,545.05 129.04,545.23 129.45,545.4 129.86,545.57 130.28,545.74 130.69,545.91 131.1,546.08 131.51,546.24 131.93,546.41 132.34,546.57 132.75,546.73 133.16,546.89 133.58,547.05 133.99,547.21 134.4,547.36 134.81,547.52 135.23,547.67 135.64,547.82 136.05,547.97 136.47,548.12 136.88,548.27 137.29,548.42 137.7,548.57 138.12,548.71 138.53,548.86 138.94,549 139.35,549.15 139.77,549.29 140.18,549.43 140.59,549.57 141,549.71 141.42,549.84 141.83,549.98 142.24,550.12 142.65,550.25 143.07,550.39 143.48,550.52 143.89,550.65 144.3,550.78 144.72,550.91 145.13,551.04 145.54,551.17 145.96,551.3 146.37,551.43 146.78,551.55 147.19,551.68 147.61,551.8 148.02,551.93 148.43,552.05 148.84,552.17 149.26,552.29 149.67,552.41 150.08,552.53 150.49,552.65 150.91,552.77 151.32,552.89 151.73,553.01 152.14,553.12 152.56,553.24 152.97,553.36 153.38,553.47 153.8,553.58 154.21,553.7 154.62,553.81 155.03,553.92 155.45,554.03 155.86,554.14 156.27,554.25 156.68,554.36 157.1,554.47 157.51,554.58 157.92,554.69 158.33,554.79 158.75,554.9 159.16,555.01 159.57,555.11 159.98,555.22 160.4,555.32 160.81,555.43 161.22,555.53 161.63,555.63 162.05,555.73 162.46,555.84 162.87,555.94 163.29,556.04 163.7,556.14 164.11,556.24 164.52,556.34 164.94,556.43 165.35,556.53 165.76,556.63 166.17,556.73 166.59,556.82 167,556.92 167.41,557.02 167.82,557.11 168.24,557.21 168.65,557.3 169.06,557.39 169.47,557.49 169.89,557.58 170.3,557.67 170.71,557.76 171.12,557.86 171.54,557.95 171.95,558.04 172.36,558.13 172.78,558.22 173.19,558.31 173.6,558.4 174.01,558.49 174.43,558.57 174.84,558.66 175.25,558.75 175.66,558.84 176.08,558.92 176.49,559.01 176.9,559.1 177.31,559.18 177.73,559.27 178.14,559.35 178.55,559.44 178.96,559.52 179.38,559.61 179.79,559.69 180.2,559.77 180.62,559.86 181.03,559.94 181.44,560.02 181.85,560.1 182.27,560.18 182.68,560.26 183.09,560.35 183.5,560.43 183.92,560.51 184.33,560.59 184.74,560.67 185.15,560.74 185.57,560.82 185.98,560.9 186.39,560.98 186.8,561.06 187.22,561.14 187.63,561.21 188.04,561.29 188.45,561.37 188.87,561.44 189.28,561.52 189.69,561.6 190.11,561.67 190.52,561.75 190.93,561.82 191.34,561.9 191.76,561.97 192.17,562.04 192.58,562.12 192.99,562.19 193.41,562.27 193.82,562.34 194.23,562.41 194.64,562.48 195.06,562.56 195.47,562.63 195.88,562.7 196.29,562.77 196.71,562.84 197.12,562.91 197.53,562.98 197.95,563.05 198.36,563.12 198.77,563.19 199.18,563.26 199.6,563.33 200.01,563.4 200.42,563.47 200.83,563.54 201.25,563.61 201.66,563.68 202.07,563.75 202.48,563.81 202.9,563.88 203.31,563.95 203.72,564.02 204.13,564.08 204.55,564.15 204.96,564.22 205.37,564.28 205.78,564.35 206.2,564.41 206.61,564.48 207.02,564.54 207.44,564.61 207.85,564.67 208.26,564.74 208.67,564.8 209.09,564.87 209.5,564.93 209.91,565 210.32,565.06 210.74,565.12 211.15,565.19 211.56,565.25 211.97,565.31 212.39,565.37 212.8,565.44 213.21,565.5 213.62,565.56 214.04,565.62 214.45,565.68 214.86,565.75 215.27,565.81 215.69,565.87 216.1,565.93 216.51,565.99 216.93,566.05 217.34,566.11 217.75,566.17 218.16,566.23 218.58,566.29 218.99,566.35 219.4,566.41 219.81,566.47 220.23,566.53 220.64,566.59 221.05,566.65 221.46,566.7 221.88,566.76 222.29,566.82 222.7,566.88 223.11,566.94 223.53,566.99 223.94,567.05 224.35,567.11 224.77,567.17 225.18,567.22 225.59,567.28 226,567.34 226.42,567.39 226.83,567.45 227.24,567.51 227.65,567.56 228.07,567.62 228.48,567.67 228.89,567.73 229.3,567.79 229.72,567.84 230.13,567.9 230.54,567.95 230.95,568.01 231.37,568.06 231.78,568.11 232.19,568.17 232.6,568.22 233.02,568.28 233.43,568.33 233.84,568.38 234.26,568.44 234.67,568.49 235.08,568.55 235.49,568.6 235.91,568.65 236.32,568.7 236.73,568.76 237.14,568.81 237.56,568.86 237.97,568.91 238.38,568.97 238.79,569.02 239.21,569.07 239.62,569.12 240.03,569.17 240.44,569.23 240.86,569.28 241.27,569.33 241.68,569.38 242.09,569.43 242.51,569.48 242.92,569.53 243.33,569.58 243.75,569.63 244.16,569.68 244.57,569.73 244.98,569.78 245.4,569.83 245.81,569.88 246.22,569.93 246.63,569.98 247.05,570.03 247.46,570.08 247.87,570.13 248.28,570.18 248.7,570.23 249.11,570.28 249.52,570.33 249.93,570.38 250.35,570.42 250.76,570.47 251.17,570.52 251.59,570.57 252,570.62 252.41,570.66 252.82,570.71 253.24,570.76 253.65,570.81 254.06,570.85 254.47,570.9 254.89,570.95 255.3,571 255.71,571.04 256.12,571.09 256.54,571.14 256.95,571.18 257.36,571.23 257.77,571.28 258.19,571.32 258.6,571.37 259.01,571.42 259.42,571.46 259.84,571.51 260.25,571.55 260.66,571.6 261.08,571.64 261.49,571.69 261.9,571.74 262.31,571.78 262.73,571.83 263.14,571.87 263.55,571.92 263.96,571.96 264.38,572.01 264.79,572.05 265.2,572.09 265.61,572.14 266.03,572.18 266.44,572.23 266.85,572.27 267.26,572.32 267.68,572.36 268.09,572.4 268.5,572.45 268.91,572.49 269.33,572.53 269.74,572.58 270.15,572.62 270.57,572.66 270.98,572.71 271.39,572.75 271.8,572.79 272.22,572.84 272.63,572.88 273.04,572.92 273.45,572.97 273.87,573.01 274.28,573.05 274.69,573.09 275.1,573.13 275.52,573.18 275.93,573.22 276.34,573.26 276.75,573.3 277.17,573.34 277.58,573.39 277.99,573.43 278.41,573.47 278.82,573.51 279.23,573.55 279.64,573.59 280.06,573.64 280.47,573.68 280.88,573.72 281.29,573.76 281.71,573.8 282.12,573.84 282.53,573.88 282.94,573.92 283.36,573.96 283.77,574 284.18,574.04 284.59,574.08 285.01,574.12 285.42,574.16 285.83,574.2 286.24,574.24 286.66,574.28 287.07,574.32 287.48,574.36 287.9,574.4 288.31,574.44 288.72,574.48 289.13,574.52 289.55,574.56 289.96,574.6 290.37,574.64 290.78,574.68 291.2,574.72 291.61,574.76 292.02,574.79 292.43,574.83 292.85,574.87 293.26,574.91 293.67,574.95 294.08,574.99 294.5,575.03 294.91,575.06 295.32,575.1 295.73,575.14 296.15,575.18 296.56,575.22 296.97,575.25 297.39,575.29 297.8,575.33 298.21,575.37 298.62,575.41 299.04,575.44 299.45,575.48 299.86,575.52 300.27,575.56 300.69,575.59 301.1,575.63 301.51,575.67 301.92,575.7 302.34,575.74 302.75,575.78 303.16,575.82 303.57,575.85 303.99,575.89 304.4,575.93 304.81,575.96 305.23,576 305.64,576.04 306.05,576.07 306.46,576.11 306.88,576.14 307.29,576.18 307.7,576.22 308.11,576.25 308.53,576.29 308.94,576.33 309.35,576.36 309.76,576.4 310.18,576.43 310.59,576.47 311,576.5 311.41,576.54 311.83,576.58 312.24,576.61 312.65,576.65 313.06,576.68 313.48,576.72 313.89,576.75 314.3,576.79 314.72,576.82 315.13,576.86 315.54,576.89 315.95,576.93 316.37,576.96 316.78,577 317.19,577.03 317.6,577.07 318.02,577.1 318.43,577.13 318.84,577.17 319.25,577.2 319.67,577.24 320.08,577.27 320.49,577.31 320.9,577.34 321.32,577.37 321.73,577.41 322.14,577.44 322.55,577.48 322.97,577.51 323.38,577.54 323.79,577.58 324.21,577.61 324.62,577.65 325.03,577.68 325.44,577.71 325.86,577.75 326.27,577.78 326.68,577.81 327.09,577.85 327.51,577.88 327.92,577.91 328.33,577.95 328.74,577.98 329.16,578.01 329.57,578.04 329.98,578.08 330.39,578.11 330.81,578.14 331.22,578.18 331.63,578.21 332.05,578.24 332.46,578.27 332.87,578.31 333.28,578.34 333.7,578.37 334.11,578.4 334.52,578.44 334.93,578.47 335.35,578.5 335.76,578.53 336.17,578.56 336.58,578.6 337,578.63 337.41,578.66 337.82,578.69 338.23,578.72 338.65,578.76 339.06,578.79 339.47,578.82 339.88,578.85 340.3,578.88 340.71,578.91 341.12,578.95 341.54,578.98 341.95,579.01 342.36,579.04 342.77,579.07 343.19,579.1 343.6,579.13 344.01,579.16 344.42,579.2 344.84,579.23 345.25,579.26 345.66,579.29 346.07,579.32 346.49,579.35 346.9,579.38 347.31,579.41 347.72,579.44 348.14,579.47 348.55,579.5 348.96,579.53 349.38,579.57 349.79,579.6 350.2,579.63 350.61,579.66 351.03,579.69 351.44,579.72 351.85,579.75 352.26,579.78 352.68,579.81 353.09,579.84 353.5,579.87 353.91,579.9 354.33,579.93 354.74,579.96 355.15,579.99 355.56,580.02 355.98,580.05 356.39,580.08 356.8,580.11 357.21,580.14 357.63,580.17 358.04,580.2 358.45,580.23 358.87,580.25 359.28,580.28 359.69,580.31 360.1,580.34 360.52,580.37 360.93,580.4 361.34,580.43 361.75,580.46 362.17,580.49 362.58,580.52 362.99,580.55 363.4,580.58 363.82,580.6 364.23,580.63 364.64,580.66 365.05,580.69 365.47,580.72 365.88,580.75 366.29,580.78 366.7,580.81 367.12,580.83 367.53,580.86 367.94,580.89 368.36,580.92 368.77,580.95 369.18,580.98 369.59,581.01 370.01,581.03 370.42,581.06 370.83,581.09 371.24,581.12 371.66,581.15 372.07,581.18 372.48,581.2 372.89,581.23 373.31,581.26 373.72,581.29 374.13,581.32 374.54,581.34 374.96,581.37 375.37,581.4 375.78,581.43 376.2,581.45 376.61,581.48 377.02,581.51 377.43,581.54 377.85,581.56 378.26,581.59 378.67,581.62 379.08,581.65 379.5,581.67 379.91,581.7 380.32,581.73 380.73,581.76 381.15,581.78 381.56,581.81 381.97,581.84 382.38,581.87 382.8,581.89 383.21,581.92 383.62,581.95 384.03,581.97 384.45,582 384.86,582.03 385.27,582.05 385.69,582.08 386.1,582.11 386.51,582.14 386.92,582.16 387.34,582.19 387.75,582.22 388.16,582.24 388.57,582.27 388.99,582.3 389.4,582.32 389.81,582.35 390.22,582.37 390.64,582.4 391.05,582.43 391.46,582.45 391.87,582.48 392.29,582.51 392.7,582.53 393.11,582.56 393.52,582.59 393.94,582.61 394.35,582.64 394.76,582.66 395.18,582.69 395.59,582.72 396,582.74 396.41,582.77 396.83,582.79 397.24,582.82 397.65,582.85 398.06,582.87 398.48,582.9 398.89,582.92 399.3,582.95 399.71,582.97 400.13,583 400.54,583.03 400.95,583.05 401.36,583.08 401.78,583.1 402.19,583.13 402.6,583.15 403.02,583.18 403.43,583.2 403.84,583.23 404.25,583.25 404.67,583.28 405.08,583.3 405.49,583.33 405.9,583.36 406.32,583.38 406.73,583.41 407.14,583.43 407.55,583.46 407.97,583.48 408.38,583.51 408.79,583.53 409.2,583.56 409.62,583.58 410.03,583.61 410.44,583.63 410.85,583.65 411.27,583.68 411.68,583.7 412.09,583.73 412.51,583.75 412.92,583.78 413.33,583.8 413.74,583.83 414.16,583.85 414.57,583.88 414.98,583.9 415.39,583.93 415.81,583.95 416.22,583.97 416.63,584 417.04,584.02 417.46,584.05 417.87,584.07 418.28,584.1 418.69,584.12 419.11,584.14 419.52,584.17 419.93,584.19 420.34,584.22 420.76,584.24 421.17,584.27 421.58,584.29 422,584.31 422.41,584.34 422.82,584.36 423.23,584.39 423.65,584.41 424.06,584.43 424.47,584.46 424.88,584.48 425.3,584.5 425.71,584.53 426.12,584.55 426.53,584.58 426.95,584.6 427.36,584.62 427.77,584.65 428.18,584.67 428.6,584.69 429.01,584.72 429.42,584.74 429.84,584.76 430.25,584.79 430.66,584.81 431.07,584.83 431.49,584.86 431.9,584.88 432.31,584.9 432.72,584.93 433.14,584.95 433.55,584.97 433.96,585 434.37,585.02 434.79,585.04 435.2,585.07 435.61,585.09 436.02,585.11 436.44,585.14 436.85,585.16 437.26,585.18 437.67,585.2 438.09,585.23 438.5,585.25"/>

</g>
<g id="p4">
<path d="M554.5,646.5v-9.3M554.5,365.5v9.3M590.17,646.5v-4.8M590.17,365.5v4.8M625.84,646.5v-4.8M625.84,365.5v4.8M661.51,646.5v-4.8M661.51,365.5v4.8M697.18,646.5v-4.8M697.18,365.5v4.8M732.85,646.5v-9.3M732.85,365.5v9.3M768.52,646.5v-4.8M768.52,365.5v4.8M804.19,646.5v-4.8M804.19,365.5v4.8M839.86,646.5v-4.8M839.86,365.5v4.8M875.53,646.5v-4.8M875.53,365.5v4.8M911.2,646.5v-9.3M911.2,365.5v9.3M545.5,380.3h9.4M923.5,380.3h-9.4M545.5,466.65h9.4M923.5,466.65h-9.4M545.5,440.66h5M923.5,440.66h-5M545.5,425.45h5M923.5,425.45h-5M545.5,414.66h5M923.5,414.66h-5M545.5,406.29h5M923.5,406.29h-5M545.5,399.46h5M923.5,399.46h-5M545.5,393.68h5M923.5,393.68h-5M545.5,388.67h5M923.5,388.67h-5M545.5,384.25h5M923.5,384.25h-5M545.5,553h9.4M923.5,553h-9.4M545.5,527.01h5M923.5,527.01h-5M545.5,511.8h5M923.5,511.8h-5M545.5,501.01h5M923.5,501.01h-5M545.5,492.64h5M923.5,492.64h-5M545.5,485.81h5M923.5,485.81h-5M545.5,480.03h5M923.5,480.03h-5M545.5,475.02h5M923.5,475.02h-5M545.5,470.6h5M923.5,470.6h-5M545.5,639.35h9.4M923.5,639.35h-9.4M545.5,613.36h5M923.5,613.36h-5M545.5,598.15h5M923.5,598.15h-5M545.5,587.36h5M923.5,587.36h-5M545.5,578.99h5M923.5,578.99h-5M545.5,572.16h5M923.5,572.16h-5M545.5,566.38h5M923.5,566.38h-5M545.5,561.37h5M923.5,561.37h-5M545.5,556.95h5M923.5,556.95h-5M545.5,643.3h5M923.5,643.3h-5" fill="none" stroke="#000" stroke-width="0.63"/>
<rect x="545.5" y="365.5" width="378" height="281" fill="none" stroke="#000" stroke-width="0.63"/>
<g fill="#000000" stroke="none"><path d="M569.36,432.45V454.05M563.26,447.35L569.36,454.05L575.46,447.35M599.09,427.2V448.8M592.99,442.1L599.09,448.8L605.19,442.1M643.67,417.2V438.8M637.57,432.1L643.67,438.8L649.77,432.1M732.85,439.2V460.8M726.75,454.1L732.85,460.8L738.95,454.1M911.2,413.95V435.55M905.1,428.85L911.2,435.55L917.3,428.85" fill="none" stroke="#000000" stroke-width="1.5" stroke-linecap="round" stroke-linejoin="miter" stroke-miterlimit="10"/><circle cx="569.36" cy="443.25" r="1.7"/><circle cx="599.09" cy="438" r="1.7"/><circle cx="643.67" cy="428" r="1.7"/><circle cx="732.85" cy="450" r="1.7"/><circle cx="911.2" cy="424.75" r="1.7"/></g>
<path d="M569.36,464.2V620M599.09,503.2V646.4M643.67,528.2V646.4M732.85,552.95V646.4M911.2,578.7V646.4" fill="none" stroke="#ff0000" stroke-width="3.3" stroke-linecap="round"/>
<path d="M572.93,554.95V646.4M602.65,582.95V646.4M647.24,582.95V646.4M736.42,591.95V646.4M914.77,614.45V646.4" fill="none" stroke="#00ff00" stroke-width="3.2" stroke-linecap="round"/>
<g fill="#0000ff" stroke="none"><path d="M569.36,361.2V382.8M563.26,376.1L569.36,382.8L575.46,376.1M599.09,389.2V410.8M592.99,404.1L599.09,410.8L605.19,404.1M643.67,389.2V410.8M637.57,404.1L643.67,410.8L649.77,404.1M732.85,413.7V435.3M726.75,428.6L732.85,435.3L738.95,428.6M911.2,403.7V425.3M905.1,418.6L911.2,425.3L917.3,418.6" fill="none" stroke="#0000ff" stroke-width="1.5" stroke-linecap="round" stroke-linejoin="miter" stroke-miterlimit="10"/><circle cx="569.36" cy="372" r="1.7"/><circle cx="599.09" cy="400" r="1.7"/><circle cx="643.67" cy="400" r="1.7"/><circle cx="732.85" cy="424.5" r="1.7"/><circle cx="911.2" cy="414.5" r="1.7"/></g>
<path fill="none" stroke="#ff00ff" stroke-width="1.45" stroke-linecap="round" d="M554.91,447.72h0M555.33,460.71h0M555.74,468.32h0M556.15,473.71h0M556.56,477.89h0M556.98,481.31h0M557.39,484.2h0M557.8,486.71h0M558.22,488.92h0M558.63,490.89h0M559.04,492.68h0M559.45,494.31h0M559.87,495.81h0M560.28,497.2h0M560.69,498.49h0M561.11,499.7h0M561.52,500.84h0M561.93,501.91h0M562.34,502.93h0M562.76,503.89h0M563.17,504.8h0M563.58,505.68h0M564,506.51h0M564.41,507.31h0M564.82,508.07h0M565.23,508.81h0M565.65,509.52h0M566.06,510.2h0M566.47,510.86h0M566.89,511.49h0M567.3,512.11h0M567.71,512.7h0M568.12,513.28h0M568.54,513.84h0M568.95,514.38h0M569.36,514.91h0M569.78,515.42h0M570.19,515.92h0M570.6,516.41h0M571.01,516.88h0M571.43,517.35h0M571.84,517.8h0M572.25,518.24h0M572.67,518.67h0M573.08,519.09h0M573.49,519.51h0M573.9,519.91h0M574.32,520.3h0M574.73,520.69h0M575.14,521.07h0M575.56,521.44h0M575.97,521.8h0M576.38,522.16h0M576.79,522.51h0M577.21,522.86h0M577.62,523.19h0M578.03,523.53h0M578.45,523.85h0M578.86,524.17h0M579.27,524.49h0"/>
<polyline fill="none" stroke="#ff00ff" stroke-width="1.6" stroke-linecap="round" stroke-linejoin="round" points="578.45,523.85 578.86,524.17 579.27,524.49 579.68,524.8 580.1,525.1 580.51,525.4 580.92,525.7 581.34,525.99 581.75,526.27 582.16,526.56 582.57,526.83 582.99,527.11 583.4,527.38 583.81,527.64 584.23,527.91 584.64,528.16 585.05,528.42 585.46,528.67 585.88,528.92 586.29,529.17 586.7,529.41 587.11,529.65 587.53,529.88 587.94,530.11 588.35,530.34 588.77,530.57 589.18,530.8 589.59,531.02 590,531.24 590.42,531.45 590.83,531.67 591.24,531.88 591.66,532.09 592.07,532.3 592.48,532.5 592.89,532.71 593.31,532.91 593.72,533.1 594.13,533.3 594.55,533.49 594.96,533.69 595.37,533.88 595.78,534.07 596.2,534.25 596.61,534.44 597.02,534.62 597.44,534.8 597.85,534.98 598.26,535.16 598.67,535.33 599.09,535.51 599.5,535.68 599.91,535.85 600.33,536.02 600.74,536.19 601.15,536.36 601.56,536.52 601.98,536.69 602.39,536.85 602.8,537.01 603.22,537.17 603.63,537.33 604.04,537.48 604.45,537.64 604.87,537.79 605.28,537.95 605.69,538.1 606.11,538.25 606.52,538.4 606.93,538.55 607.34,538.69 607.76,538.84 608.17,538.99 608.58,539.13 609,539.27 609.41,539.41 609.82,539.55 610.23,539.69 610.65,539.83 611.06,539.97 611.47,540.11 611.89,540.24 612.3,540.38 612.71,540.51 613.12,540.64 613.54,540.77 613.95,540.9 614.36,541.03 614.78,541.16 615.19,541.29 615.6,541.42 616.01,541.54 616.43,541.67 616.84,541.79 617.25,541.92 617.67,542.04 618.08,542.16 618.49,542.28 618.9,542.4 619.32,542.52 619.73,542.64 620.14,542.76 620.56,542.88 620.97,543 621.38,543.11 621.79,543.23 622.21,543.34 622.62,543.46 623.03,543.57 623.45,543.68 623.86,543.79 624.27,543.91 624.68,544.02 625.1,544.13 625.51,544.23 625.92,544.34 626.34,544.45 626.75,544.56 627.16,544.67 627.57,544.77 627.99,544.88 628.4,544.98 628.81,545.09 629.23,545.19 629.64,545.29 630.05,545.4 630.46,545.5 630.88,545.6 631.29,545.7 631.7,545.8 632.12,545.9 632.53,546 632.94,546.1 633.35,546.2 633.77,546.3 634.18,546.39 634.59,546.49 635.01,546.59 635.42,546.68 635.83,546.78 636.24,546.87 636.66,546.97 637.07,547.06 637.48,547.16 637.9,547.25 638.31,547.34 638.72,547.43 639.13,547.53 639.55,547.62 639.96,547.71 640.37,547.8 640.79,547.89 641.2,547.98 641.61,548.07 642.02,548.16 642.44,548.24 642.85,548.33 643.26,548.42 643.67,548.51 644.09,548.59 644.5,548.68 644.91,548.76 645.33,548.85 645.74,548.94 646.15,549.02 646.56,549.1 646.98,549.19 647.39,549.27 647.8,549.35 648.22,549.44 648.63,549.52 649.04,549.6 649.45,549.68 649.87,549.76 650.28,549.85 650.69,549.93 651.11,550.01 651.52,550.09 651.93,550.17 652.34,550.25 652.76,550.32 653.17,550.4 653.58,550.48 654,550.56 654.41,550.64 654.82,550.71 655.23,550.79 655.65,550.87 656.06,550.94 656.47,551.02 656.89,551.1 657.3,551.17 657.71,551.25 658.12,551.32 658.54,551.4 658.95,551.47 659.36,551.54 659.78,551.62 660.19,551.69 660.6,551.76 661.01,551.84 661.43,551.91 661.84,551.98 662.25,552.05 662.67,552.13 663.08,552.2 663.49,552.27 663.9,552.34 664.32,552.41 664.73,552.48 665.14,552.55 665.56,552.62 665.97,552.69 666.38,552.76 666.79,552.83 667.21,552.9 667.62,552.97 668.03,553.03 668.45,553.1 668.86,553.17 669.27,553.24 669.68,553.3 670.1,553.37 670.51,553.44 670.92,553.51 671.34,553.57 671.75,553.64 672.16,553.7 672.57,553.77 672.99,553.84 673.4,553.9 673.81,553.97 674.23,554.03 674.64,554.09 675.05,554.16 675.46,554.22 675.88,554.29 676.29,554.35 676.7,554.41 677.12,554.48 677.53,554.54 677.94,554.6 678.35,554.67 678.77,554.73 679.18,554.79 679.59,554.85 680.01,554.91 680.42,554.98 680.83,555.04 681.24,555.1 681.66,555.16 682.07,555.22 682.48,555.28 682.9,555.34 683.31,555.4 683.72,555.46 684.13,555.52 684.55,555.58 684.96,555.64 685.37,555.7 685.79,555.76 686.2,555.82 686.61,555.88 687.02,555.93 687.44,555.99 687.85,556.05 688.26,556.11 688.68,556.17 689.09,556.22 689.5,556.28 689.91,556.34 690.33,556.4 690.74,556.45 691.15,556.51 691.57,556.57 691.98,556.62 692.39,556.68 692.8,556.73 693.22,556.79 693.63,556.85 694.04,556.9 694.46,556.96 694.87,557.01 695.28,557.07 695.69,557.12 696.11,557.18 696.52,557.23 696.93,557.29 697.35,557.34 697.76,557.39 698.17,557.45 698.58,557.5 699,557.56 699.41,557.61 699.82,557.66 700.24,557.72 700.65,557.77 701.06,557.82 701.47,557.87 701.89,557.93 702.3,557.98 702.71,558.03 703.12,558.08 703.54,558.14 703.95,558.19 704.36,558.24 704.78,558.29 705.19,558.34 705.6,558.39 706.01,558.45 706.43,558.5 706.84,558.55 707.25,558.6 707.67,558.65 708.08,558.7 708.49,558.75 708.9,558.8 709.32,558.85 709.73,558.9 710.14,558.95 710.56,559 710.97,559.05 711.38,559.1 711.79,559.15 712.21,559.2 712.62,559.25 713.03,559.29 713.45,559.34 713.86,559.39 714.27,559.44 714.68,559.49 715.1,559.54 715.51,559.59 715.92,559.63 716.34,559.68 716.75,559.73 717.16,559.78 717.57,559.82 717.99,559.87 718.4,559.92 718.81,559.97 719.23,560.01 719.64,560.06 720.05,560.11 720.46,560.15 720.88,560.2 721.29,560.25 721.7,560.29 722.12,560.34 722.53,560.39 722.94,560.43 723.35,560.48 723.77,560.52 724.18,560.57 724.59,560.61 725.01,560.66 725.42,560.71 725.83,560.75 726.24,560.8 726.66,560.84 727.07,560.89 727.48,560.93 727.9,560.97 728.31,561.02 728.72,561.06 729.13,561.11 729.55,561.15 729.96,561.2 730.37,561.24 730.79,561.28 731.2,561.33 731.61,561.37 732.02,561.42 732.44,561.46 732.85,561.5 733.26,561.55 733.68,561.59 734.09,561.63 734.5,561.68 734.91,561.72 735.33,561.76 735.74,561.8 736.15,561.85 736.57,561.89 736.98,561.93 737.39,561.97 737.8,562.02 738.22,562.06 738.63,562.1 739.04,562.14 739.46,562.18 739.87,562.23 740.28,562.27 740.69,562.31 741.11,562.35 741.52,562.39 741.93,562.43 742.35,562.48 742.76,562.52 743.17,562.56 743.58,562.6 744,562.64 744.41,562.68 744.82,562.72 745.24,562.76 745.65,562.8 746.06,562.84 746.47,562.88 746.89,562.92 747.3,562.96 747.71,563 748.13,563.04 748.54,563.08 748.95,563.12 749.36,563.16 749.78,563.2 750.19,563.24 750.6,563.28 751.02,563.32 751.43,563.36 751.84,563.4 752.25,563.44 752.67,563.48 753.08,563.52 753.49,563.56 753.91,563.6 754.32,563.63 754.73,563.67 755.14,563.71 755.56,563.75 755.97,563.79 756.38,563.83 756.8,563.87 757.21,563.9 757.62,563.94 758.03,563.98 758.45,564.02 758.86,564.06 759.27,564.09 759.69,564.13 760.1,564.17 760.51,564.21 760.92,564.24 761.34,564.28 761.75,564.32 762.16,564.36 762.58,564.39 762.99,564.43 763.4,564.47 763.81,564.5 764.23,564.54 764.64,564.58 765.05,564.62 765.46,564.65 765.88,564.69 766.29,564.73 766.7,564.76 767.12,564.8 767.53,564.83 767.94,564.87 768.35,564.91 768.77,564.94 769.18,564.98 769.59,565.02 770.01,565.05 770.42,565.09 770.83,565.12 771.24,565.16 771.66,565.19 772.07,565.23 772.48,565.27 772.9,565.3 773.31,565.34 773.72,565.37 774.13,565.41 774.55,565.44 774.96,565.48 775.37,565.51 775.79,565.55 776.2,565.58 776.61,565.62 777.02,565.65 777.44,565.69 777.85,565.72 778.26,565.76 778.68,565.79 779.09,565.83 779.5,565.86 779.91,565.89 780.33,565.93 780.74,565.96 781.15,566 781.57,566.03 781.98,566.07 782.39,566.1 782.8,566.13 783.22,566.17 783.63,566.2 784.04,566.23 784.46,566.27 784.87,566.3 785.28,566.34 785.69,566.37 786.11,566.4 786.52,566.44 786.93,566.47 787.35,566.5 787.76,566.54 788.17,566.57 788.58,566.6 789,566.64 789.41,566.67 789.82,566.7 790.24,566.73 790.65,566.77 791.06,566.8 791.47,566.83 791.89,566.86 792.3,566.9 792.71,566.93 793.13,566.96 793.54,566.99 793.95,567.03 794.36,567.06 794.78,567.09 795.19,567.12 795.6,567.16 796.02,567.19 796.43,567.22 796.84,567.25 797.25,567.28 797.67,567.32 798.08,567.35 798.49,567.38 798.91,567.41 799.32,567.44 799.73,567.47 800.14,567.51 800.56,567.54 800.97,567.57 801.38,567.6 801.8,567.63 802.21,567.66 802.62,567.69 803.03,567.73 803.45,567.76 803.86,567.79 804.27,567.82 804.69,567.85 805.1,567.88 805.51,567.91 805.92,567.94 806.34,567.97 806.75,568 807.16,568.03 807.58,568.06 807.99,568.1 808.4,568.13 808.81,568.16 809.23,568.19 809.64,568.22 810.05,568.25 810.47,568.28 810.88,568.31 811.29,568.34 811.7,568.37 812.12,568.4 812.53,568.43 812.94,568.46 813.36,568.49 813.77,568.52 814.18,568.55 814.59,568.58 815.01,568.61 815.42,568.64 815.83,568.67 816.25,568.7 816.66,568.73 817.07,568.76 817.48,568.78 817.9,568.81 818.31,568.84 818.72,568.87 819.14,568.9 819.55,568.93 819.96,568.96 820.37,568.99 820.79,569.02 821.2,569.05 821.61,569.08 822.03,569.11 822.44,569.13 822.85,569.16 823.26,569.19 823.68,569.22 824.09,569.25 824.5,569.28 824.91,569.31 825.33,569.34 825.74,569.36 826.15,569.39 826.57,569.42 826.98,569.45 827.39,569.48 827.8,569.51 828.22,569.53 828.63,569.56 829.04,569.59 829.46,569.62 829.87,569.65 830.28,569.68 830.69,569.7 831.11,569.73 831.52,569.76 831.93,569.79 832.35,569.82 832.76,569.84 833.17,569.87 833.58,569.9 834,569.93 834.41,569.95 834.82,569.98 835.24,570.01 835.65,570.04 836.06,570.06 836.47,570.09 836.89,570.12 837.3,570.15 837.71,570.17 838.13,570.2 838.54,570.23 838.95,570.26 839.36,570.28 839.78,570.31 840.19,570.34 840.6,570.36 841.02,570.39 841.43,570.42 841.84,570.45 842.25,570.47 842.67,570.5 843.08,570.53 843.49,570.55 843.91,570.58 844.32,570.61 844.73,570.63 845.14,570.66 845.56,570.69 845.97,570.71 846.38,570.74 846.8,570.77 847.21,570.79 847.62,570.82 848.03,570.85 848.45,570.87 848.86,570.9 849.27,570.92 849.69,570.95 850.1,570.98 850.51,571 850.92,571.03 851.34,571.06 851.75,571.08 852.16,571.11 852.58,571.13 852.99,571.16 853.4,571.19 853.81,571.21 854.23,571.24 854.64,571.26 855.05,571.29 855.47,571.31 855.88,571.34 856.29,571.37 856.7,571.39 857.12,571.42 857.53,571.44 857.94,571.47 858.36,571.49 858.77,571.52 859.18,571.54 859.59,571.57 860.01,571.6 860.42,571.62 860.83,571.65 861.25,571.67 861.66,571.7 862.07,571.72 862.48,571.75 862.9,571.77 863.31,571.8 863.72,571.82 864.14,571.85 864.55,571.87 864.96,571.9 865.37,571.92 865.79,571.95 866.2,571.97 866.61,572 867.03,572.02 867.44,572.05 867.85,572.07 868.26,572.1 868.68,572.12 869.09,572.14 869.5,572.17 869.92,572.19 870.33,572.22 870.74,572.24 871.15,572.27 871.57,572.29 871.98,572.32 872.39,572.34 872.81,572.36 873.22,572.39 873.63,572.41 874.04,572.44 874.46,572.46 874.87,572.49 875.28,572.51 875.7,572.53 876.11,572.56 876.52,572.58 876.93,572.61 877.35,572.63 877.76,572.65 878.17,572.68 878.59,572.7 879,572.73 879.41,572.75 879.82,572.77 880.24,572.8 880.65,572.82 881.06,572.84 881.48,572.87 881.89,572.89 882.3,572.92 882.71,572.94 883.13,572.96 883.54,572.99 883.95,573.01 884.36,573.03 884.78,573.06 885.19,573.08 885.6,573.1 886.02,573.13 886.43,573.15 886.84,573.17 887.25,573.2 887.67,573.22 888.08,573.24 888.49,573.27 888.91,573.29 889.32,573.31 889.73,573.34 890.14,573.36 890.56,573.38 890.97,573.41 891.38,573.43 891.8,573.45 892.21,573.47 892.62,573.5 893.03,573.52 893.45,573.54 893.86,573.57 894.27,573.59 894.69,573.61 895.1,573.63 895.51,573.66 895.92,573.68 896.34,573.7 896.75,573.72 897.16,573.75 897.58,573.77 897.99,573.79 898.4,573.81 898.81,573.84 899.23,573.86 899.64,573.88 900.05,573.9 900.47,573.93 900.88,573.95 901.29,573.97 901.7,573.99 902.12,574.02 902.53,574.04 902.94,574.06 903.36,574.08 903.77,574.11 904.18,574.13 904.59,574.15 905.01,574.17 905.42,574.19 905.83,574.22 906.25,574.24 906.66,574.26 907.07,574.28 907.48,574.3 907.9,574.33 908.31,574.35 908.72,574.37 909.14,574.39 909.55,574.41 909.96,574.43 910.37,574.46 910.79,574.48 911.2,574.5"/>

</g>
<g opacity="0.999">
<text transform="translate(82,319.4) scale(0.9310,1)" font-size="23.2" text-anchor="middle">0</text><text transform="translate(260.25,319.4) scale(0.9310,1)" font-size="23.2" text-anchor="middle">0.5</text><text transform="translate(438.5,319.4) scale(0.9310,1)" font-size="23.2" text-anchor="middle">1</text><text transform="translate(261.2,343.5) scale(0.9474,1)" font-size="22.8" text-anchor="middle">Integration time (days)</text>
<text transform="translate(59.7,23.3) rotate(-90) scale(0.9310,1)" font-size="23.2" text-anchor="middle">0.1</text><text transform="translate(59.7,65.23) rotate(-90) scale(0.9310,1)" font-size="23.2" text-anchor="middle">0.01</text><text transform="translate(59.7,106.36) rotate(-90) scale(0.9310,1)" font-size="23.2" text-anchor="middle">10<tspan font-size="14.15" dy="-6.05">–3</tspan></text><text transform="translate(59.7,147.79) rotate(-90) scale(0.9310,1)" font-size="23.2" text-anchor="middle">10<tspan font-size="14.15" dy="-6.05">–4</tspan></text><text transform="translate(59.7,189.22) rotate(-90) scale(0.9310,1)" font-size="23.2" text-anchor="middle">10<tspan font-size="14.15" dy="-6.05">–5</tspan></text><text transform="translate(59.7,230.65) rotate(-90) scale(0.9310,1)" font-size="23.2" text-anchor="middle">10<tspan font-size="14.15" dy="-6.05">–6</tspan></text><text transform="translate(59.7,272.08) rotate(-90) scale(0.9310,1)" font-size="23.2" text-anchor="middle">10<tspan font-size="14.15" dy="-6.05">–7</tspan></text><text transform="translate(21.2,290.5) rotate(-90) scale(0.9497,1)" font-size="22.8" text-anchor="start">Flux 14–25 keV (ph/cm<tspan font-size="13.91" dy="-6.05">2</tspan><tspan dy="6.05">/s)</tspan></text>
<text transform="translate(554.5,319.4) scale(0.9310,1)" font-size="23.2" text-anchor="middle">0</text><text transform="translate(732.85,319.4) scale(0.9310,1)" font-size="23.2" text-anchor="middle">0.5</text><text transform="translate(911.2,319.4) scale(0.9310,1)" font-size="23.2" text-anchor="middle">1</text><text transform="translate(734.1,343.5) scale(0.9474,1)" font-size="22.8" text-anchor="middle">Integration time (days)</text>
<text transform="translate(531.7,29.1) rotate(-90) scale(0.9310,1)" font-size="23.2" text-anchor="middle">0.1</text><text transform="translate(531.7,101.95) rotate(-90) scale(0.9310,1)" font-size="23.2" text-anchor="middle">0.01</text><text transform="translate(531.7,174) rotate(-90) scale(0.9310,1)" font-size="23.2" text-anchor="middle">10<tspan font-size="14.15" dy="-6.05">–3</tspan></text><text transform="translate(531.7,246.35) rotate(-90) scale(0.9310,1)" font-size="23.2" text-anchor="middle">10<tspan font-size="14.15" dy="-6.05">–4</tspan></text><text transform="translate(493.8,290.5) rotate(-90) scale(0.9497,1)" font-size="22.8" text-anchor="start">Flux 25–50 keV (ph/cm<tspan font-size="13.91" dy="-6.05">2</tspan><tspan dy="6.05">/s)</tspan></text>
<text transform="translate(82,670.4) scale(0.9310,1)" font-size="23.2" text-anchor="middle">0</text><text transform="translate(260.25,670.4) scale(0.9310,1)" font-size="23.2" text-anchor="middle">0.5</text><text transform="translate(438.5,670.4) scale(0.9310,1)" font-size="23.2" text-anchor="middle">1</text><text transform="translate(261.2,694.5) scale(0.9474,1)" font-size="22.8" text-anchor="middle">Integration time (days)</text>
<text transform="translate(59.7,371.2) rotate(-90) scale(0.9310,1)" font-size="23.2" text-anchor="middle">0.1</text><text transform="translate(59.7,462.7) rotate(-90) scale(0.9310,1)" font-size="23.2" text-anchor="middle">0.01</text><text transform="translate(59.7,553.4) rotate(-90) scale(0.9310,1)" font-size="23.2" text-anchor="middle">10<tspan font-size="14.15" dy="-6.05">–3</tspan></text><text transform="translate(59.7,644.4) rotate(-90) scale(0.9310,1)" font-size="23.2" text-anchor="middle">10<tspan font-size="14.15" dy="-6.05">–4</tspan></text><text transform="translate(21.2,647.55) rotate(-90) scale(0.9497,1)" font-size="22.8" text-anchor="start">Flux 50–100 keV (ph/cm<tspan font-size="13.91" dy="-6.05">2</tspan><tspan dy="6.05">/s)</tspan></text>
<text transform="translate(554.5,670.4) scale(0.9310,1)" font-size="23.2" text-anchor="middle">0</text><text transform="translate(732.85,670.4) scale(0.9310,1)" font-size="23.2" text-anchor="middle">0.5</text><text transform="translate(911.2,670.4) scale(0.9310,1)" font-size="23.2" text-anchor="middle">1</text><text transform="translate(734.1,694.5) scale(0.9474,1)" font-size="22.8" text-anchor="middle">Integration time (days)</text>
<text transform="translate(531.7,380) rotate(-90) scale(0.9310,1)" font-size="23.2" text-anchor="middle">0.1</text><text transform="translate(531.7,466.85) rotate(-90) scale(0.9310,1)" font-size="23.2" text-anchor="middle">0.01</text><text transform="translate(531.7,552.9) rotate(-90) scale(0.9310,1)" font-size="23.2" text-anchor="middle">10<tspan font-size="14.15" dy="-6.05">–3</tspan></text><text transform="translate(531.7,639.25) rotate(-90) scale(0.9310,1)" font-size="23.2" text-anchor="middle">10<tspan font-size="14.15" dy="-6.05">–4</tspan></text><text transform="translate(493.8,653.55) rotate(-90) scale(0.9497,1)" font-size="22.8" text-anchor="start">Flux 100–200 keV (ph/cm<tspan font-size="13.91" dy="-6.05">2</tspan><tspan dy="6.05">/s)</tspan></text>
<path transform="translate(438.5,319.4) scale(0.9310,1)" fill="#fff" d="M-5.29,-2.83H-0.67v3.63H-5.29zM1.48,-2.83H5.92v3.63H1.48z"/><path transform="translate(59.7,23.3) rotate(-90) scale(0.9310,1)" fill="#fff" d="M4.38,-2.83H9.00v3.63H4.38zM11.15,-2.83H15.58v3.63H11.15z"/><path transform="translate(59.7,65.23) rotate(-90) scale(0.9310,1)" fill="#fff" d="M10.82,-2.84H15.44v3.64H10.82zM17.59,-2.84H22.04v3.64H17.59z"/><path transform="translate(59.7,106.36) rotate(-90) scale(0.9310,1)" fill="#fff" d="M-19.60,-2.83H-14.98v3.63H-19.60zM-12.83,-2.83H-8.39v3.63H-12.83z"/><path transform="translate(59.7,147.79) rotate(-90) scale(0.9310,1)" fill="#fff" d="M-19.60,-2.83H-14.98v3.63H-19.60zM-12.83,-2.83H-8.39v3.63H-12.83z"/><path transform="translate(59.7,189.22) rotate(-90) scale(0.9310,1)" fill="#fff" d="M-19.60,-2.83H-14.98v3.63H-19.60zM-12.83,-2.83H-8.39v3.63H-12.83z"/><path transform="translate(59.7,230.65) rotate(-90) scale(0.9310,1)" fill="#fff" d="M-19.60,-2.83H-14.98v3.63H-19.60zM-12.83,-2.83H-8.39v3.63H-12.83z"/><path transform="translate(59.7,272.08) rotate(-90) scale(0.9310,1)" fill="#fff" d="M-19.60,-2.83H-14.98v3.63H-19.60zM-12.83,-2.83H-8.39v3.63H-12.83z"/><path transform="translate(21.2,290.5) rotate(-90) scale(0.9497,1)" fill="#fff" d="M50.53,-2.81H55.08v3.61H50.53zM57.20,-2.81H61.58v3.61H57.20z"/><path transform="translate(911.2,319.4) scale(0.9310,1)" fill="#fff" d="M-5.29,-2.83H-0.67v3.63H-5.29zM1.48,-2.83H5.92v3.63H1.48z"/><path transform="translate(531.7,29.1) rotate(-90) scale(0.9310,1)" fill="#fff" d="M4.38,-2.83H9.00v3.63H4.38zM11.15,-2.83H15.58v3.63H11.15z"/><path transform="translate(531.7,101.95) rotate(-90) scale(0.9310,1)" fill="#fff" d="M10.82,-2.84H15.44v3.64H10.82zM17.59,-2.84H22.04v3.64H17.59z"/><path transform="translate(531.7,174) rotate(-90) scale(0.9310,1)" fill="#fff" d="M-19.60,-2.83H-14.98v3.63H-19.60zM-12.83,-2.83H-8.39v3.63H-12.83z"/><path transform="translate(531.7,246.35) rotate(-90) scale(0.9310,1)" fill="#fff" d="M-19.60,-2.83H-14.98v3.63H-19.60zM-12.83,-2.83H-8.39v3.63H-12.83z"/><path transform="translate(438.5,670.4) scale(0.9310,1)" fill="#fff" d="M-5.29,-2.83H-0.67v3.63H-5.29zM1.48,-2.83H5.92v3.63H1.48z"/><path transform="translate(59.7,371.2) rotate(-90) scale(0.9310,1)" fill="#fff" d="M4.38,-2.83H9.00v3.63H4.38zM11.15,-2.83H15.58v3.63H11.15z"/><path transform="translate(59.7,462.7) rotate(-90) scale(0.9310,1)" fill="#fff" d="M10.82,-2.84H15.44v3.64H10.82zM17.59,-2.84H22.04v3.64H17.59z"/><path transform="translate(59.7,553.4) rotate(-90) scale(0.9310,1)" fill="#fff" d="M-19.60,-2.83H-14.98v3.63H-19.60zM-12.83,-2.83H-8.39v3.63H-12.83z"/><path transform="translate(59.7,644.4) rotate(-90) scale(0.9310,1)" fill="#fff" d="M-19.60,-2.83H-14.98v3.63H-19.60zM-12.83,-2.83H-8.39v3.63H-12.83z"/><path transform="translate(21.2,647.55) rotate(-90) scale(0.9497,1)" fill="#fff" d="M88.56,-2.81H93.12v3.61H88.56zM95.23,-2.81H99.61v3.61H95.23z"/><path transform="translate(911.2,670.4) scale(0.9310,1)" fill="#fff" d="M-5.29,-2.83H-0.67v3.63H-5.29zM1.48,-2.83H5.92v3.63H1.48z"/><path transform="translate(531.7,380) rotate(-90) scale(0.9310,1)" fill="#fff" d="M4.38,-2.83H9.00v3.63H4.38zM11.15,-2.83H15.58v3.63H11.15z"/><path transform="translate(531.7,466.85) rotate(-90) scale(0.9310,1)" fill="#fff" d="M10.82,-2.84H15.44v3.64H10.82zM17.59,-2.84H22.04v3.64H17.59z"/><path transform="translate(531.7,552.9) rotate(-90) scale(0.9310,1)" fill="#fff" d="M-19.60,-2.83H-14.98v3.63H-19.60zM-12.83,-2.83H-8.39v3.63H-12.83z"/><path transform="translate(531.7,639.25) rotate(-90) scale(0.9310,1)" fill="#fff" d="M-19.60,-2.83H-14.98v3.63H-19.60zM-12.83,-2.83H-8.39v3.63H-12.83z"/><path transform="translate(493.8,653.55) rotate(-90) scale(0.9497,1)" fill="#fff" d="M50.53,-2.81H55.08v3.61H50.53zM57.20,-2.81H61.58v3.61H57.20z"/></g>
</svg>
</body></html>
